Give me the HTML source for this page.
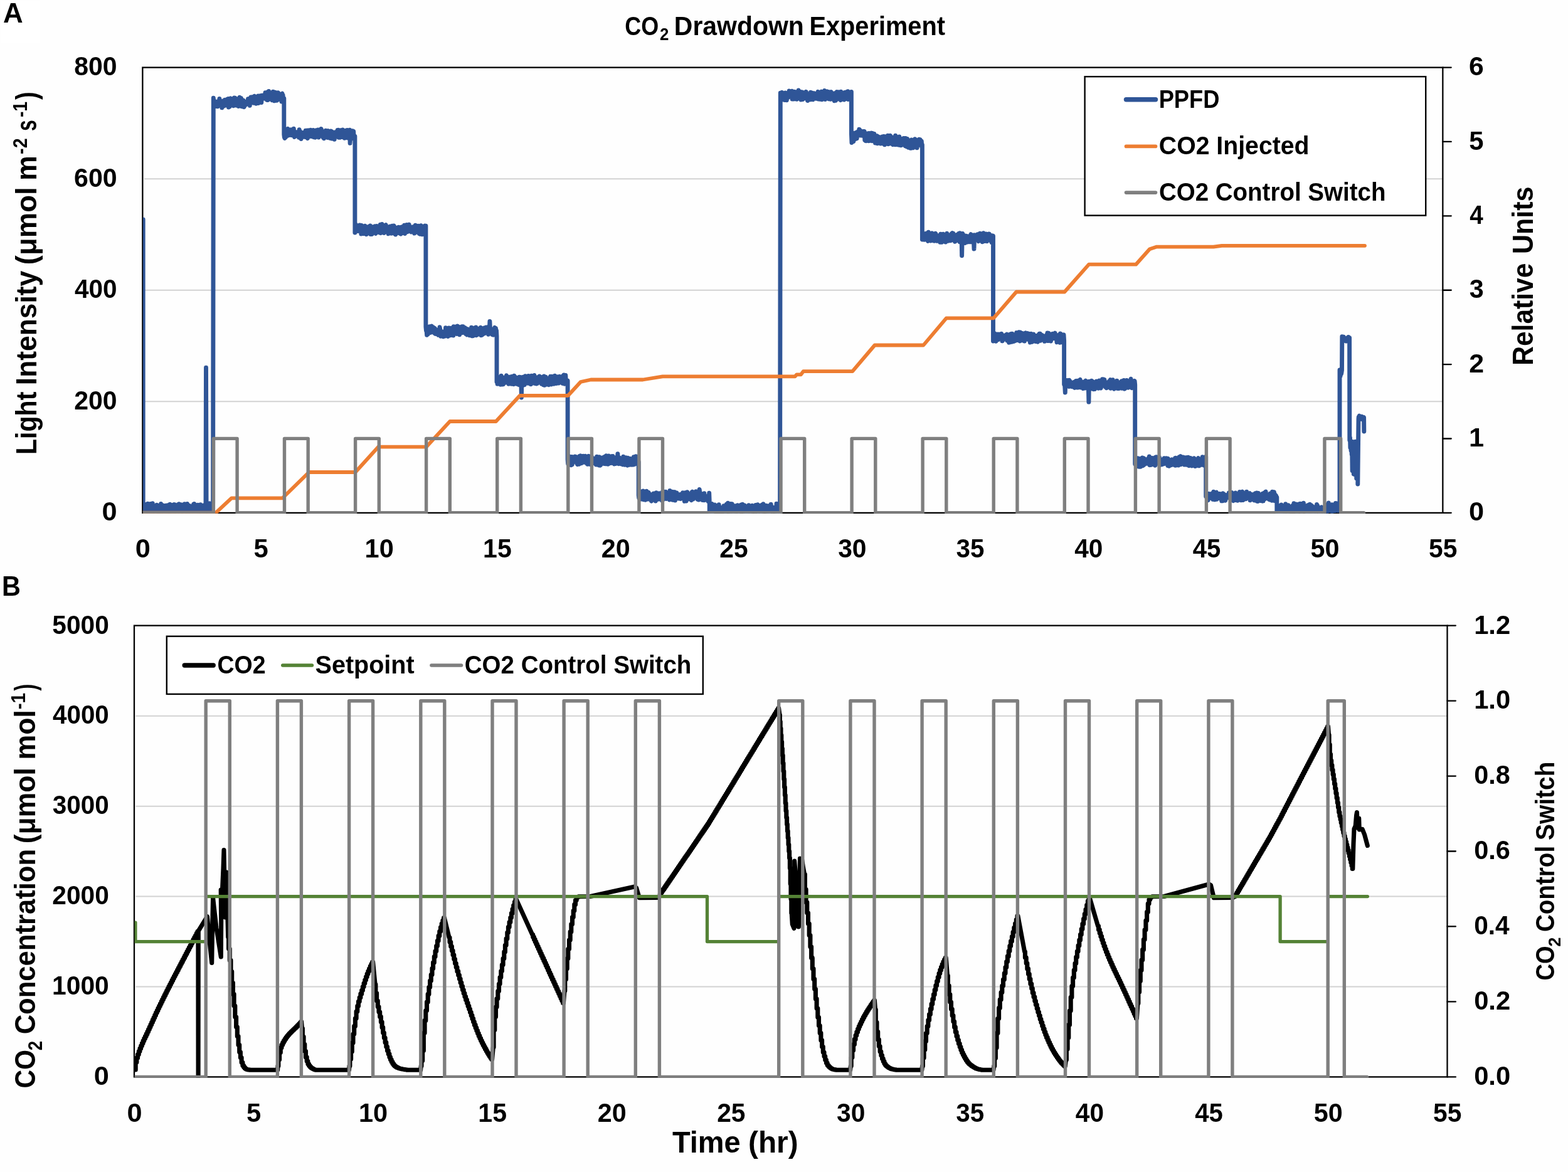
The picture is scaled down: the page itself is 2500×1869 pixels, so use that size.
<!DOCTYPE html>
<html lang="en"><head><meta charset="utf-8"><title>CO2 Drawdown Experiment</title><style>html,body{margin:0;padding:0;background:#fefefe}body{width:2500px;height:1869px}svg{display:block}text{white-space:pre}</style></head>
<body>
<svg width="2500" height="1869" viewBox="0 0 2500 1869" role="img" aria-label="CO2 Drawdown Experiment" font-family="'Liberation Sans', Arial, sans-serif" font-weight="bold" fill="#000">
<rect width="2500" height="1869" fill="#fefefe"/>
<rect x="1" y="1" width="62" height="68" fill="#fff"/>
<clipPath id="ca"><rect x="227.9" y="107.6" width="2073.0" height="711.2"/></clipPath>
<clipPath id="cb"><rect x="214.6" y="997.6" width="2093.5" height="720.7"/></clipPath>
<g id="panelA">
<line x1="229.9" y1="640.2" x2="2300.3" y2="640.2" stroke="#d2d2d2" stroke-width="2"/>
<line x1="229.9" y1="462.7" x2="2300.3" y2="462.7" stroke="#d2d2d2" stroke-width="2"/>
<line x1="229.9" y1="285.2" x2="2300.3" y2="285.2" stroke="#d2d2d2" stroke-width="2"/>
<rect x="227.35" y="107.60" width="2073.00" height="710.25" fill="none" stroke="#000" stroke-width="2.3"/>
<path d="M2300.35,107.60h13.4M2300.35,225.97h13.4M2300.35,344.35h13.4M2300.35,462.73h13.4M2300.35,581.10h13.4M2300.35,699.48h13.4M2300.35,817.85h13.4" fill="none" stroke="#000" stroke-width="2.3" stroke-linecap="round"/>
<g clip-path="url(#ca)">
<path d="M228.2,350 228.2,811.5 228.4,815.2 228.9,807.1 229.5,813.2 230,811.6 230.6,815.6 231.1,806.9 231.7,815.2 232.3,804.8 232.8,815.6 233.4,814.5 233.9,814.1 234.5,814.4 235,814.1 235.6,803.1 236.1,814.8 236.7,813.2 237.2,815.6 237.8,805.8 238.3,814.6 238.9,804.3 239.4,815.3 240,803.4 240.6,814.6 241.1,807.3 241.7,814.8 242.2,811.8 242.8,815.1 243.3,802.8 243.9,813.6 244.4,808.9 245,814 245.5,809 246.1,814.5 246.6,810.7 247.2,814.7 247.7,813.4 248.3,815.4 248.8,813.6 249.4,814.2 250,805.1 250.5,814.4 251.1,810.4 251.6,813.4 252.2,813.7 252.7,813.3 253.3,806.5 253.8,813.7 254.4,806.9 254.9,813.5 255.5,810.6 256,814.5 256.6,803.5 257.1,814.8 257.7,805.1 258.3,814.5 258.8,808.7 259.4,814.4 259.9,806 260.5,813.7 261,809.5 261.6,815.3 262.1,807.2 262.7,814.2 263.2,806.8 263.8,813.4 264.3,806.3 264.9,815.1 265.4,806.7 266,815 266.5,805.9 267.1,813.6 267.7,805.8 268.2,814.1 268.8,811.4 269.3,813.3 269.9,813.2 270.4,814.1 271,804.3 271.5,813.3 272.1,810 272.6,813.6 273.2,805.2 273.7,814 274.3,811.6 274.8,815.2 275.4,813.9 276,815.2 276.5,810.4 277.1,813.5 277.6,804.5 278.2,814.9 278.7,804.7 279.3,814 279.8,814.4 280.4,814.6 280.9,806.6 281.5,814.6 282,814 282.6,815.7 283.1,806.7 283.7,813.6 284.3,804.4 284.8,814.9 285.4,803.8 285.9,814.9 286.5,805.9 287,815.5 287.6,805.5 288.1,814.1 288.7,804.8 289.2,813.8 289.8,807.4 290.3,814.4 290.9,813.6 291.4,814.5 292,813.3 292.5,813.8 293.1,811.2 293.7,815.5 294.2,803.8 294.8,814.3 295.3,806.7 295.9,813.8 296.4,808.7 297,814.8 297.5,807.6 298.1,813.5 298.6,803.5 299.2,814.6 299.7,808.8 300.3,815.4 300.8,815.2 301.4,813.3 302,806.4 302.5,814.6 303.1,807.6 303.6,813.8 304.2,812 304.7,815.5 305.3,814.6 305.8,813.7 306.4,807.2 306.9,815.3 307.5,811.3 308,815.4 308.6,804.2 309.1,815 309.7,803.5 310.3,814.6 310.8,816.4 311.4,814.5 311.9,814.8 312.5,814.6 313,805.6 313.6,815.6 314.1,808.8 314.7,814.2 315.2,805.3 315.8,813.8 316.3,815.3 316.9,813.3 317.4,812 318,814.3 318.5,812.2 319.1,813.4 319.7,804.8 320.2,813.3 320.8,813.7 321.3,815.2 321.9,814.3 322.4,815.5 323,808.5 323.5,815.3 324.1,809.8 324.6,813.8 325.2,805.7 325.7,815 326.3,813 326.8,815.4 327.4,808.3 328,813.3 328.5,586.1 329.1,814 329.6,812.6 330.2,813.3 330.7,805.6 331.3,814.9 331.8,808.2 332.4,815.2 332.9,806 333.5,815.4 334,802.8 334.6,813.3 335.1,812.8 335.7,815.3 336.2,807.1 336.8,813.7 337.4,807 337.9,815.2 338.5,807 339,813.5 339.6,802.4 340.3,156.3 340.9,161.2 341.4,161.6 342,170.2 342.6,169.1 343.1,161.6 343.7,162.3 344.3,166.7 344.8,165.7 345.4,169.5 346,166.5 346.5,164.1 347.1,169.9 347.6,161.6 348.2,162.2 348.8,162 349.3,164.2 349.9,157.5 350.5,163.8 351,161.8 351.6,160.8 352.1,160.9 352.7,169.1 353.3,163 353.8,171.9 354.4,163.5 355,167.7 355.5,161.9 356.1,169.6 356.6,160.6 357.2,161.5 357.8,161.7 358.3,159.3 358.9,168.4 359.5,163.7 360,159.1 360.6,165.1 361.1,164.3 361.7,164.5 362.3,167.5 362.8,157.9 363.4,164.1 364,157.5 364.5,171.1 365.1,166.3 365.6,158.9 366.2,170 366.8,158.8 367.3,161.4 367.9,156.8 368.5,161.5 369,166.7 369.6,157.6 370.1,167.2 370.7,161.9 371.3,167.4 371.8,158 372.4,168.7 373,166.1 373.5,156 374.1,162.3 374.7,156.1 375.2,165.8 375.8,160.4 376.3,166.5 376.9,168.1 377.5,157.6 378,167 378.6,160.7 379.2,160.7 379.7,164.7 380.3,169.5 380.8,165.2 381.4,158.4 382,155.2 382.5,156.9 383.1,159.7 383.7,156.4 384.2,156.4 384.8,169.5 385.3,157.9 385.9,160.6 386.5,170.1 387,163.8 387.6,166.2 388.2,160.3 388.7,166 388.7,162.5 389.3,170.7 389.8,167.9 390.4,163.8 391,163.6 391.5,167.7 392.1,162.4 392.7,162.7 393.2,164.6 393.8,164.3 394.3,162.6 394.9,164.6 395.5,157.6 396,166.2 396.6,157.4 397.1,166.8 397.7,163.1 398.3,168.3 398.8,160.4 399.4,163.8 400,154.9 400.5,158.1 401.1,155.8 401.6,163.1 402.2,154.8 402.8,160.2 403.3,156.4 403.9,155 404.4,164.4 405,155.8 405.6,153.2 406.1,157.7 406.7,154.9 407.3,162.2 407.8,160.6 408.4,165.4 408.9,163.9 409.5,155.7 410.1,163.8 410.6,154.7 411.2,163.5 411.7,153 412.3,164.5 412.9,159 413.4,157.4 414,156.6 414.6,156.1 415.1,152.8 415.7,159.8 416.2,155.7 416.8,163.5 417.4,152.3 417.4,155.2 417.9,157.2 418.5,156 419.1,152.5 419.6,156.9 420.2,156.5 420.7,151.6 421.3,152.2 421.9,151 422.4,157.2 423,147.7 423.6,157.6 424.1,154.2 424.7,150.9 425.2,159.3 425.8,159.5 426.4,159.6 426.9,146.8 427.5,152.5 428.1,158.9 428.6,145.4 429.2,149.7 429.7,152.1 430.3,149.4 430.9,153.8 431.4,153.3 432,157.9 432.6,149 433.1,156.7 433.7,152.9 434.2,159.9 434.8,158.4 435.4,146.1 435.9,151.8 436.5,149.7 437,153.2 437.6,160.9 438.2,154.8 438.7,147.3 439.3,157.5 439.9,149.5 440.4,153.4 441,156.1 441.5,160.3 442.1,151.9 442.7,156.8 443.2,147.6 443.8,148 444.4,153.5 444.9,156 445.5,151.5 446,158.4 446.6,152.2 447.2,151.5 447.7,157.8 448.3,158.1 448.9,162.1 449.4,149.6 450,149.1 450.5,160 451.1,151.7 451.7,161 452.2,156.1 452.8,156.5 452.8,214.3 453.3,218.7 453.9,220.4 454.5,211.3 455,208 455.6,218.8 456.1,211.5 456.7,212 457.2,212.2 457.8,213.3 458.3,206 458.9,205.3 459.4,216.3 460,214.3 460.6,210.7 461.1,214.5 461.7,215.4 462.2,209.1 462.8,210.6 463.3,208.5 463.9,206.8 464.4,213.6 465,215.7 465.5,213.8 466.1,208.7 466.7,214.4 467.2,211.1 467.8,211.6 468.3,205.3 468.9,216.7 469.4,218.5 470,209.6 470.5,210.7 471.1,212.7 471.6,211.4 472.2,211.1 472.7,216.8 473.3,215.5 473.9,210.7 474.4,215.4 475,216.2 475.5,212.7 476.1,210.2 476.6,219.2 477.2,206.6 477.7,217.3 478.3,218.7 478.8,209.9 479.4,215.3 480,221.5 480.5,211.5 481.1,216.2 481.6,213.3 482.2,213.7 482.7,218.4 483.3,215.3 483.8,211.4 484.4,218.3 484.9,215.6 485.5,211.9 486.1,216.2 486.6,218.4 487.2,208.3 487.7,209.8 488.3,212.5 488.8,211 489.4,215.6 489.9,207.9 490.5,220.7 491,218 491.6,213.2 492.1,209.2 492.7,207.8 493.3,217.7 493.8,215.1 494.4,212.8 494.9,211.2 495.5,207.3 496,217.6 496.6,209.4 497.1,210.1 497.7,209.5 498.2,214.4 498.8,210.2 499.4,207.4 499.9,218.7 500.5,208.2 501,208.8 501.6,216.5 502.1,212.3 502.7,219.2 503.2,218.6 503.8,213.6 504.3,207.7 504.9,209.8 505.5,215 506,209.6 506.6,212.7 507.1,207 507.7,213.4 508.2,219.1 508.8,214.4 509.3,209.4 509.9,206.9 510.4,214.1 511,213.5 511.5,216.5 512.1,205.4 512.7,207.7 513.2,214.6 513.8,214.1 514.3,216.1 514.9,219 515.4,217.2 516,215 516.5,220.8 517.1,211.1 517.6,209.8 518.2,210.3 518.8,215.7 519.3,208.3 519.9,212.7 520.4,211.8 521,208.6 521.5,219.2 522.1,219.4 522.6,210.8 523.2,208.5 523.7,216.5 524.3,210.4 524.9,216 525.4,213.2 526,220.3 526.5,212.2 527.1,215.3 527.6,208.9 528.2,213.1 528.7,221.1 529.3,209.9 529.8,218.9 530.4,214.4 530.9,216.1 531.5,220.9 532.1,221 532.6,214.1 533.2,222.3 533.7,211.8 534.3,210.8 534.8,216.6 535.4,216.1 535.9,215 536.5,211.8 537,213.6 537.6,215.2 538.2,207.4 538.7,207.9 539.3,207.4 539.8,219.2 540.4,215.8 540.9,211.2 541.5,215 542,219.4 542.6,207.8 543.1,209.1 543.7,211 544.3,212.8 544.8,211.3 545.4,218.5 545.9,213.9 546.5,206.9 547,209.6 547.6,213.2 548.1,216.8 548.7,214.9 549.2,220.3 549.8,210.3 550.3,214.7 550.9,219.7 551.5,212.1 552,207.9 552.6,208.9 553.1,211.5 553.7,207.4 554.2,212.6 554.8,220 555.3,218.7 555.9,214.6 556.4,219.7 557,215.2 557.6,207.1 558.1,228.4 558.7,214.8 559.2,215.7 559.8,210.1 560.3,217.2 560.9,214.4 561.4,220.9 562,208.6 562.5,214.5 563.1,219.5 563.7,209.4 564.2,218.5 564.8,221 565.3,218.2 565.9,217 565.9,371.1 566.4,358.6 567,362.8 567.5,358.2 568.1,364.3 568.6,368.4 569.2,364.9 569.7,361 570.3,367 570.9,368.6 571.4,361.5 572,362.7 572.5,360.9 573.1,364.7 573.6,358.9 574.2,364.3 574.7,359.5 575.3,362.2 575.8,373.1 576.4,359.5 577,363 577.5,364.3 578.1,371.1 578.6,360.6 579.2,372.7 579.7,369.7 580.3,372.4 580.8,371.4 581.4,368 581.9,360.2 582.5,372.8 583.1,368.1 583.6,362.1 584.2,373.7 584.7,362.1 585.3,362.6 585.8,368.7 586.4,370.7 586.9,361.7 587.5,365.6 588,366.4 588.6,366.5 589.1,366.8 589.7,366.4 590.3,359.9 590.8,373.5 591.4,368.1 591.9,370 592.5,369.3 593,373.6 593.6,367.6 594.1,364.5 594.7,370.4 595.2,361.8 595.8,367.8 596.4,369.9 596.9,367.3 597.5,371.2 598,360.8 598.6,370.6 599.1,372.4 599.7,371 600.2,363.9 600.8,360.5 601.3,366.9 601.9,361.9 602.5,368.3 603,362.5 603.6,368.4 604.1,363.5 604.7,364.7 605.2,371.1 605.8,363.4 606.3,358.3 606.9,371.7 607.4,359.9 608,361.7 608.5,368.7 609.1,357.4 609.7,368.6 610.2,364.6 610.8,367.3 611.3,362.4 611.9,361.9 612.4,371.6 613,370.7 613.5,367 614.1,362.8 614.6,359.1 615.2,358.7 615.8,361.8 616.3,368.7 616.9,361.8 617.4,361.8 618,365.9 618.5,369.6 619.1,372.8 619.6,372.6 620.2,366.9 620.7,368.1 621.3,363.6 621.9,361 622.4,368.2 623,361.2 623.5,372.2 624.1,361.3 624.6,369.1 625.2,360.1 625.7,369.5 626.3,362.3 626.8,369.2 627.4,372 627.9,360 628.5,364.8 629.1,361.6 629.6,363.7 630.2,364.9 630.7,374.1 631.3,365.2 631.8,370 632.4,363.8 632.9,363.4 633.5,365.5 634,368.8 634.6,368.4 635.2,365.5 635.7,362.3 636.3,371.8 636.8,367.7 637.4,368.2 637.9,370.1 638.5,362.4 639,373.2 639.6,370.8 640.1,370.8 640.7,370 641.2,361.8 641.8,368.4 642.4,362.2 642.9,366.4 643.5,371.6 644,366.2 644.6,359.2 645.1,369.2 645.7,372.5 646.2,369.5 646.8,367.7 647.3,358.9 647.9,362 648.5,358.4 649,363.7 649.6,367 650.1,369.7 650.7,363.1 651.2,362.9 651.8,360.3 652.3,358.1 652.9,367.6 653.4,363.8 654,365.9 654.6,367.7 655.1,363.3 655.7,370 656.2,364.6 656.8,365.5 657.3,369.6 657.9,362 658.4,368.5 659,361.7 659.5,369 660.1,366.9 660.6,372.1 661.2,365 661.8,368.8 662.3,359.1 662.9,368.9 663.4,366.4 664,361.9 664.5,370.4 665.1,361.6 665.6,366.2 666.2,368.4 666.7,360.2 667.3,367.4 667.9,360.8 668.4,372.7 669,362.6 669.5,367.8 670.1,373.3 670.6,366.1 671.2,359.7 671.7,365.2 672.3,368.4 672.8,367.7 673.4,373.9 674,361.1 674.5,361.4 675.1,365.4 675.6,366.2 676.2,371.8 676.7,362.3 677.3,360.1 677.8,370.1 678.4,366.3 678.9,360.2 678.9,521.1 679.5,527.4 680,525.6 680.6,534.3 681.2,526.4 681.7,523.2 682.3,532.8 682.8,527.7 683.4,522.3 683.9,521.9 684.5,528.7 685,520.7 685.6,524.9 686.1,529.9 686.7,530.4 687.3,529.5 687.8,521.9 688.4,520.1 688.9,529.4 689.5,525.5 690,528.1 690.6,521.8 691.1,522.1 691.7,522.5 692.2,530.7 692.8,523.2 693.4,523.4 693.9,532.4 694.5,525.9 695,532.5 695.6,528 696.1,529.2 696.7,526.1 697.2,527.8 697.8,526.9 698.3,529.1 698.9,534.4 699.4,530.4 700,529.9 700.6,530.8 701.1,521.8 701.7,525 702.2,527.8 702.8,536.2 703.3,532.8 703.9,535.4 704.4,530.2 705,534.9 705.5,528.9 706.1,535.5 706.7,536.8 707.2,532 707.8,529.3 708.3,532.7 708.9,536.3 709.4,529 710,532.4 710.5,522.8 711.1,530.7 711.6,526.6 712.2,533.4 712.8,526.3 713.3,530.8 713.9,529.2 714.4,536.6 715,534.6 715.5,523 716.1,535.1 716.6,532.8 717.2,523.1 717.7,532.4 718.3,534.8 718.8,525.6 719.4,529.3 720,523.2 720.5,526.3 721.1,528.1 721.6,527.1 722.2,523.4 722.7,535 723.3,520.7 723.8,522.9 724.4,524.7 724.9,523.8 725.5,521 726.1,526 726.6,523.5 727.2,524.9 727.7,521.5 728.3,532.6 728.8,531.5 729.4,520 729.9,520.3 730.5,529.6 731,523.8 731.6,525 732.2,527 732.7,533.8 733.3,521.6 733.8,525.2 734.4,531.2 734.9,528.7 735.5,525.4 736,527.7 736.6,520.7 737.1,525.4 737.7,530.6 738.2,520.6 738.8,527.7 739.4,523.1 739.9,523.5 740.5,525.2 741,524 741.6,522.6 742.1,525.2 742.7,532.4 743.2,529.9 743.8,532.8 744.3,533.8 744.9,532.1 745.5,524.6 746,527.3 746.6,526.1 747.1,532.9 747.7,531 748.2,531.3 748.8,534.8 749.3,525.6 749.9,526.1 750.4,531.8 751,534.7 751.6,522.3 752.1,535.7 752.7,526.1 753.2,527 753.8,531.7 754.3,535.7 754.9,523.1 755.4,529 756,534.1 756.5,529.3 757.1,530.9 757.6,532.5 758.2,531.1 758.8,522 759.3,534.8 759.9,525.2 760.4,527.9 761,533.9 761.5,526.5 762.1,527.7 762.6,530.1 763.2,526.3 763.7,525.1 764.3,528.6 764.9,523.4 765.4,526.6 766,523.8 766.5,522.3 767.1,534.8 767.6,532.5 768.2,534.5 768.7,526.4 769.3,524 769.8,533.4 770.4,523.8 771,526.3 771.5,529.1 772.1,523 772.6,527 773.2,531.5 773.7,528.7 774.3,524.7 774.8,521.9 775.4,526.4 775.9,526.7 776.5,523.9 777,525.6 777.6,525.5 778.2,521.5 778.7,533.4 779.3,531.8 779.8,529 780.4,523.9 780.9,512.4 781.5,525.7 782,523.5 782.6,524.6 783.1,529.1 783.7,525.1 784.3,530.2 784.8,533.5 785.4,531.8 785.9,534.1 786.5,534.2 787,532.3 787.6,528.5 788.1,524.6 788.7,522.3 789.2,527.2 789.8,523.4 790.4,523.4 790.9,526.2 791.5,526.9 792,536.4 792,609.1 792.6,600.3 793.1,612.3 793.7,601.3 794.2,605.4 794.8,606.8 795.3,611.2 795.9,606.5 796.4,603.4 797,611 797.6,602.1 798.1,613.3 798.7,608.5 799.2,599.2 799.8,612.9 800.3,611.4 800.9,601.5 801.4,613 802,604.6 802.5,612.8 803.1,605.9 803.7,604.2 804.2,603.6 804.8,609.1 805.3,609.4 805.9,610.1 806.4,609.3 807,600.1 807.5,598.7 808.1,602.3 808.6,602.8 809.2,603.6 809.8,606.3 810.3,602 810.9,612.4 811.4,603.6 812,601.2 812.5,604 813.1,604.7 813.6,606.3 814.2,601 814.7,604.9 815.3,612.3 815.8,600.4 816.4,610.4 817,602.2 817.5,603.6 818.1,612 818.6,605.7 819.2,612.7 819.7,599.3 820.3,607.4 820.8,600.4 821.4,606.8 821.9,610.7 822.5,601.7 823.1,602.9 823.6,612.2 824.2,610.9 824.7,608.3 825.3,608.7 825.8,602.9 826.4,607.7 826.9,613.4 827.5,606.6 828,601.2 828.6,614.1 829.2,611.8 829.7,601.4 830.3,606.5 830.8,602.5 831.4,634 831.9,609.9 832.5,614 833,607.2 833.6,614.8 834.1,601.3 834.7,603.5 835.2,612 835.8,608.7 836.4,613.5 836.9,605.4 837.5,599.8 838,606.6 838.6,601.6 839.1,601.8 839.7,602.6 840.2,602.3 840.8,605.5 841.3,607.5 841.9,611.3 842.5,599.4 843,599.8 843.6,603.8 844.1,604.9 844.7,600 845.2,609.9 845.8,602.2 846.3,612.9 846.9,607.9 847.4,599.2 848,611.6 848.5,604.8 849.1,609.9 849.7,608.7 850.2,602.2 850.8,605.2 851.3,598.6 851.9,598.5 852.4,602.9 853,611.5 853.5,608.8 854.1,609.2 854.6,604.2 855.2,612.1 855.8,606.4 856.3,607 856.9,611.3 857.4,601.6 858,601.5 858.5,606.4 859.1,606.4 859.6,607.8 860.2,600 860.7,602.8 861.3,602.5 861.9,606 862.4,607.6 863,605.3 863.5,612.2 864.1,605.2 864.6,607.2 865.2,601.1 865.7,606.8 866.3,613.6 866.8,612.8 867.4,599.9 867.9,614.3 868.5,608.1 869.1,612 869.6,603.4 870.2,601 870.7,613.3 871.3,607.4 871.8,604.1 872.4,604.1 872.9,605.9 873.5,603.5 874,603.9 874.6,609.2 875.2,613.9 875.7,609.8 876.3,608.2 876.8,602.6 877.4,600.3 877.9,612.8 878.5,612.8 879,613 879.6,602.6 880.1,600.3 880.7,606.9 881.3,606.5 881.8,607.3 882.4,610.2 882.9,612.3 883.5,606.7 884,610.8 884.6,599.3 885.1,602.3 885.7,602.7 886.2,604.7 886.8,611.6 887.3,601.4 887.9,611 888.5,600.9 889,600.8 889.6,603.8 890.1,605.4 890.7,611 891.2,606.9 891.8,602.4 892.3,600.3 892.9,606.5 893.4,609.4 894,604.5 894.6,601.3 895.1,602.4 895.7,604.6 896.2,610.8 896.8,611.3 897.3,599.4 897.9,599 898.4,602.1 899,598 899.5,605.7 900.1,612.2 900.7,609.4 901.2,602.7 901.8,598.5 902.3,607.8 902.9,609.2 903.4,611.2 904,611.2 904.5,609.4 905.1,606.8 905.1,732.6 905.6,739.5 906.2,736.8 906.7,741.5 907.3,739.3 907.9,731.5 908.4,729.8 909,728.2 909.5,729.2 910.1,733.4 910.6,741.8 911.2,732.9 911.7,728.5 912.3,740.6 912.8,734.7 913.4,735.8 914,737.4 914.5,729.3 915.1,735.5 915.6,732 916.2,731.3 916.7,728 917.3,734.7 917.8,728.1 918.4,728.6 918.9,736.1 919.5,736.5 920.1,739.8 920.6,740.5 921.2,734.2 921.7,739 922.3,729.4 922.8,734.6 923.4,740.2 923.9,727.4 924.5,738 925,728.6 925.6,726.8 926.1,734 926.7,738.9 927.3,730.9 927.8,729.3 928.4,730.5 928.9,729.2 929.5,733.4 930,727.3 930.6,728.3 931.1,737.2 931.7,728.9 932.2,735.6 932.8,732.3 933.4,727.3 933.9,731.1 934.5,729 935,737.2 935.6,739.1 936.1,736 936.7,733.3 937.2,740.4 937.8,728.9 938.3,727.3 938.9,729.3 939.5,733.5 940,737.3 940.6,727.9 941.1,740.5 941.7,734 942.2,738.6 942.8,737.1 943.3,728.2 943.9,739.2 944.4,732.1 945,735.3 945.5,736.5 946.1,732.5 946.7,731.2 947.2,733.6 947.8,738.4 948.3,737.3 948.9,735 949.4,739.9 950,730.7 950.5,741.1 951.1,733.8 951.6,728.3 952.2,735.9 952.8,735 953.3,732.1 953.9,736 954.4,738.4 955,741.9 955.5,728.6 956.1,736.6 956.6,742.3 957.2,733.1 957.7,741.4 958.3,732.9 958.9,738.7 959.4,733.8 960,737.1 960.5,737.5 961.1,729.7 961.6,730.2 962.2,735 962.7,729.6 963.3,739.5 963.8,736.6 964.4,728.2 964.9,739.7 965.5,738.7 966.1,739.5 966.6,726.7 967.2,728 967.7,728.7 968.3,727.7 968.8,735.9 969.4,740.4 969.9,736.9 970.5,727 971,739.3 971.6,731 972.2,732.7 972.7,736.4 973.3,734.5 973.8,738.6 974.4,728.6 974.9,729.1 975.5,727.7 976,729.4 976.6,733.3 977.1,727.4 977.7,738.7 978.3,737.7 978.8,737.1 979.4,740 979.9,734.1 980.5,736.1 981,730.1 981.6,739.6 982.1,738.6 982.7,735.7 983.2,729.1 983.8,734.9 984.3,731.8 984.9,723.6 985.5,733.7 986,735.9 986.6,739.7 987.1,732.5 987.7,729.9 988.2,731.6 988.8,735.6 989.3,736.5 989.9,732.3 990.4,739.9 991,733.8 991.6,735.8 992.1,739.5 992.7,740.8 993.2,734.8 993.8,728.3 994.3,739.1 994.9,730.3 995.4,736.6 996,741.3 996.5,737.1 997.1,740.8 997.7,734.4 998.2,729.7 998.8,734.4 999.3,740.4 999.9,731.8 1000.4,742.2 1001,730.2 1001.5,738.3 1002.1,739.7 1002.6,731.4 1003.2,738.8 1003.7,741.3 1004.3,732.5 1004.9,731.4 1005.4,732.1 1006,734.9 1006.5,740.4 1007.1,732.2 1007.6,741.3 1008.2,738.5 1008.7,735.4 1009.3,737 1009.8,741 1010.4,728.6 1011,733.8 1011.5,731.3 1012.1,740.2 1012.6,733.9 1013.2,731.3 1013.7,727.7 1014.3,739.1 1014.8,727.9 1015.4,733.7 1015.9,738.1 1016.5,735.7 1017.1,738.1 1017.6,734.4 1018.2,736.7 1018.2,789.7 1018.7,794.4 1019.3,787.4 1019.8,785.3 1020.4,784.3 1020.9,783.9 1021.5,792.9 1022,786.5 1022.6,796 1023.1,784.7 1023.7,790 1024.3,794.3 1024.8,793 1025.4,782.9 1025.9,793.8 1026.5,796.7 1027,786.1 1027.6,795 1028.1,791.2 1028.7,786.2 1029.2,797.4 1029.8,796.5 1030.4,794.8 1030.9,783.1 1031.5,793.1 1032,789.9 1032.6,787.3 1033.1,796.1 1033.7,786.1 1034.2,785.5 1034.8,792.7 1035.3,793.2 1035.9,795.5 1036.5,788.3 1037,793.9 1037.6,795.1 1038.1,798.6 1038.7,799.1 1039.2,795.6 1039.8,788.8 1040.3,791.1 1040.9,788.5 1041.4,790.3 1042,787.1 1042.5,795.2 1043.1,787.1 1043.7,796.4 1044.2,791 1044.8,791.5 1045.3,799.1 1045.9,795.3 1046.4,785.6 1047,797.1 1047.5,793.6 1048.1,796.6 1048.6,792.4 1049.2,792.9 1049.8,796.1 1050.3,793.5 1050.9,786.6 1051.4,796.1 1052,789.2 1052.5,787.3 1053.1,792.6 1053.6,788.6 1054.2,796 1054.7,795.5 1055.3,798.1 1055.8,785.1 1056.4,794.3 1057,788.4 1057.5,796.6 1058.1,783.9 1058.6,788.7 1059.2,789.2 1059.7,793.6 1060.3,785.5 1060.8,794.1 1061.4,784.2 1061.9,790.8 1062.5,795.6 1063.1,791.5 1063.6,792.3 1064.2,793.5 1064.7,787.1 1065.3,788.7 1065.8,791.1 1066.4,787.9 1066.9,787.1 1067.5,797 1068,782.5 1068.6,786.6 1069.2,784.8 1069.7,788.7 1070.3,795.6 1070.8,792 1071.4,796.5 1071.9,784.1 1072.5,797.4 1073,795.2 1073.6,796 1074.1,789.7 1074.7,784.6 1075.2,793.9 1075.8,784.7 1076.4,798 1076.9,785.6 1077.5,790.6 1078,790.4 1078.6,785.8 1079.1,786 1079.7,790.4 1080.2,788.9 1080.8,792.1 1081.3,792.7 1081.9,795.1 1082.5,793.5 1083,791.3 1083.6,792.8 1084.1,794.6 1084.7,788.4 1085.2,795.5 1085.8,794.7 1086.3,794.4 1086.9,788.8 1087.4,789.4 1088,794.7 1088.6,785.7 1089.1,789.8 1089.7,790.5 1090.2,786.7 1090.8,794.2 1091.3,799.4 1091.9,798.5 1092.4,785.8 1093,792.6 1093.5,789.7 1094.1,799.1 1094.6,794.1 1095.2,796.4 1095.8,784.8 1096.3,792.7 1096.9,787.7 1097.4,789.9 1098,791.2 1098.5,793.8 1099.1,789.7 1099.6,796 1100.2,789 1100.7,787.3 1101.3,790.7 1101.9,796.5 1102.4,797.7 1103,785 1103.5,785.6 1104.1,784.2 1104.6,785.2 1105.2,796.1 1105.7,793.4 1106.3,794.4 1106.8,794 1107.4,787.5 1108,788.5 1108.5,787.7 1109.1,790.3 1109.6,783.7 1110.2,790.2 1110.7,789 1111.3,791 1111.8,796.1 1112.4,796.4 1112.9,788.6 1113.5,783.9 1114,797 1114.6,785 1115.2,780.4 1115.7,784.5 1116.3,789.4 1116.8,787.1 1117.4,786.8 1117.9,790.6 1118.5,790.8 1119,794.7 1119.6,791.1 1120.1,797.6 1120.7,793.4 1121.3,791.6 1121.8,796 1122.4,797.7 1122.9,786.7 1123.5,797.6 1124,797.2 1124.6,792.9 1125.1,792.1 1125.7,791.1 1126.2,795.1 1126.8,793.2 1127.4,792.9 1127.9,797.8 1128.5,797.8 1129,799.4 1129.6,790.9 1130.1,795.3 1130.7,786.1 1131.2,799.5 1131.2,815.3 1131.8,811.2 1132.3,815.3 1132.9,809.7 1133.4,815.2 1134,812.2 1134.6,815.1 1135.1,803.4 1135.7,815.7 1136.2,814.2 1136.8,815.6 1137.3,811.7 1137.9,814 1138.4,811.7 1139,813.9 1139.5,805 1140.1,813.9 1140.6,811.5 1141.2,814.5 1141.7,812.6 1142.3,814.5 1142.9,806.6 1143.4,813.6 1144,814.4 1144.5,814.1 1145.1,809.2 1145.6,813.8 1146.2,804.8 1146.7,813.5 1147.3,812.6 1147.8,814.3 1148.4,808.9 1148.9,813.3 1149.5,813.8 1150,814.3 1150.6,810.6 1151.2,813.6 1151.7,809.4 1152.3,814.1 1152.8,812.6 1153.4,813.3 1153.9,806.7 1154.5,814.2 1155,814.8 1155.6,815.2 1156.1,807 1156.7,814.2 1157.2,813.8 1157.8,815.1 1158.3,804.2 1158.9,813.6 1159.4,807.6 1160,813.2 1160.6,802.1 1161.1,813.6 1161.7,813.8 1162.2,814.5 1162.8,806.7 1163.3,814.6 1163.9,806.2 1164.4,813.5 1165,803.5 1165.5,815.4 1166.1,812.1 1166.6,814 1167.2,803.7 1167.7,815.2 1168.3,813.7 1168.9,815.4 1169.4,812.1 1170,813.5 1170.5,808.7 1171.1,815.4 1171.6,806.8 1172.2,814.9 1172.7,807.9 1173.3,814.5 1173.8,809.1 1174.4,815.1 1174.9,812.4 1175.5,813.6 1176,805.6 1176.6,813.2 1177.2,814.9 1177.7,815.6 1178.3,809.9 1178.8,813.5 1179.4,814.4 1179.9,814.6 1180.5,813.2 1181,814.1 1181.6,805 1182.1,814.5 1182.7,814.7 1183.2,814.6 1183.8,804.2 1184.3,814.6 1184.9,813.6 1185.5,813.8 1186,809.8 1186.6,815.2 1187.1,805.9 1187.7,813.3 1188.2,806.9 1188.8,813.7 1189.3,811.1 1189.9,815.3 1190.4,816.3 1191,815.7 1191.5,809.8 1192.1,814.9 1192.6,811.4 1193.2,815.1 1193.8,805.6 1194.3,815.4 1194.9,807.1 1195.4,813.8 1196,806.9 1196.5,815.5 1197.1,813.4 1197.6,814.9 1198.2,809 1198.7,815 1199.3,806.1 1199.8,813.8 1200.4,810.1 1200.9,813.4 1201.5,808.2 1202.1,814.4 1202.6,814.6 1203.2,814.7 1203.7,811.5 1204.3,814.9 1204.8,805.5 1205.4,814.4 1205.9,805.8 1206.5,814.9 1207,807.4 1207.6,813.9 1208.1,804.7 1208.7,815.6 1209.2,811.7 1209.8,813.5 1210.4,806.3 1210.9,813.7 1211.5,809.7 1212,815.1 1212.6,812.1 1213.1,815.7 1213.7,809.8 1214.2,813.9 1214.8,805.1 1215.3,815.2 1215.9,812 1216.4,814.6 1217,803.8 1217.5,814.9 1218.1,814 1218.7,814.3 1219.2,809 1219.8,813.4 1220.3,807.4 1220.9,814.8 1221.4,806.2 1222,813.8 1222.5,813 1223.1,814.3 1223.6,808.1 1224.2,815.4 1224.7,806.6 1225.3,813.9 1225.8,812 1226.4,813.7 1227,815.8 1227.5,814.6 1228.1,810.9 1228.6,814.7 1229.2,804.3 1229.7,813.8 1230.3,813 1230.8,814 1231.4,808.6 1231.9,815.1 1232.5,814.4 1233,813.5 1233.6,812.3 1234.1,813.4 1234.7,811.9 1235.3,813.7 1235.8,809.3 1236.4,815 1236.9,811.4 1237.5,813.3 1238,803.3 1238.6,813.9 1239.1,810.5 1239.7,815.6 1240.2,812.5 1240.8,813.6 1241.3,807.6 1241.9,814.4 1242.4,805.6 1243,815.7 1243.6,814 1244.3,148.2 1244.9,149.3 1245.4,155.6 1246,147.6 1246.5,149.2 1247.1,147.4 1247.6,153.6 1248.2,148.6 1248.7,149.4 1249.3,159 1249.8,157.9 1250.4,149.5 1251,159.6 1251.5,150.9 1252.1,147.9 1252.6,155.6 1253.2,154.6 1253.7,153.3 1254.3,159.8 1254.8,150.2 1255.4,154.2 1255.9,148.4 1256.5,155.6 1257.1,155.1 1257.6,150.2 1258.2,144.9 1258.7,149.8 1259.3,147.3 1259.8,153.8 1260.4,148.2 1260.9,146.9 1261.5,150.7 1262,152.4 1262.6,145.1 1263.1,158 1263.7,147.1 1264.3,149.6 1264.8,148.3 1265.4,158 1265.9,156.6 1266.5,146.2 1267,156.8 1267.6,152.4 1268.1,148.5 1268.7,157.9 1269.2,154.7 1269.8,146.7 1270.4,158.3 1270.9,153.2 1271.5,153.5 1272,150.7 1272.6,149.6 1273.1,144 1273.7,155.2 1274.2,152.9 1274.8,154.7 1275.3,149.9 1275.9,155.5 1276.5,146.4 1277,159.1 1277.6,155.9 1278.1,150 1278.7,154.2 1279.2,146.9 1279.8,153.7 1280.3,158.5 1280.9,156.2 1281.4,156.3 1282,156.6 1282.5,147.6 1283.1,149.6 1283.7,156.1 1284.2,147.3 1284.8,150.3 1285.3,146.3 1285.9,148.7 1286.4,156 1287,158.2 1287.5,160.6 1288.1,159.1 1288.6,157.3 1289.2,158.8 1289.8,159.1 1290.3,155.7 1290.9,153.8 1291.4,156.4 1292,157 1292.5,147.3 1293.1,158.7 1293.6,153.4 1294.2,154.3 1294.7,152.5 1295.3,148.1 1295.9,158.9 1296.4,155.5 1297,149.6 1297.5,151.2 1298.1,153 1298.6,148.7 1299.2,154.5 1299.7,152.4 1300.3,157 1300.8,157.2 1301.4,156.1 1301.9,152.4 1302.5,153.3 1303.1,149.4 1303.6,149.7 1304.2,146.3 1304.7,158.1 1305.3,150 1305.8,150.6 1306.4,151.5 1306.9,158.3 1307.5,154.5 1308,156.5 1308.6,146.9 1309.2,147 1309.7,146 1310.3,158.8 1310.8,153.6 1311.4,150.8 1311.9,151.7 1312.5,154.1 1313,156.2 1313.6,153.4 1314.1,155.4 1314.7,144.4 1315.3,146.5 1315.8,158.5 1316.4,156.9 1316.9,150.6 1317.5,150.1 1318,146.5 1318.6,146 1319.1,150.9 1319.7,146.2 1320.2,156.4 1320.8,153.5 1321.3,150.2 1321.9,157.9 1322.5,148 1323,146.9 1323.6,148 1324.1,158.4 1324.7,147.5 1325.2,146.6 1325.8,155.2 1326.3,155.6 1326.9,149.6 1327.4,152.2 1328,152.1 1328.6,158 1329.1,155.8 1329.7,159.8 1330.2,160.7 1330.8,148.7 1331.3,151.8 1331.9,155.5 1332.4,160.2 1333,149.1 1333.5,149.4 1334.1,146.6 1334.7,156.9 1335.2,158.1 1335.8,146.8 1336.3,146.8 1336.9,157.7 1337.4,154.5 1338,150.4 1338.5,155 1339.1,151.6 1339.6,157.5 1340.2,159.6 1340.7,146.3 1341.3,157.2 1341.9,157.5 1342.4,150.1 1343,156.3 1343.5,151.6 1344.1,150.2 1344.6,154.3 1345.2,156.9 1345.7,159.1 1346.3,158.8 1346.8,147.4 1347.4,155.7 1348,153.6 1348.5,156.5 1349.1,157.3 1349.6,146.6 1350.2,155.2 1350.7,148 1351.3,150.6 1351.8,145.7 1352.4,158.6 1352.9,153.3 1353.5,154.2 1354.1,150.8 1354.6,149.4 1355.2,147.8 1355.7,148 1356.3,150.3 1356.8,156.7 1357.4,146.4 1357.4,213.4 1358,227.6 1358.6,224.8 1359.1,224.5 1359.7,224 1360.3,223.1 1360.9,225.6 1361.5,213.9 1362.1,222.4 1362.7,212.1 1363.3,216.4 1363.9,221.7 1364.4,219.2 1365,218 1365.6,211.1 1366.2,220.8 1366.8,212.9 1366.8,217.3 1367.4,210.3 1368,213.5 1368.6,209.4 1369.2,213.7 1369.8,206.2 1370.4,206.4 1371,207.4 1371.6,216 1372.2,208.9 1372.8,209.1 1373.4,216 1374,211.8 1374.6,216.4 1375.2,209.9 1375.8,209.6 1376.4,215.7 1377,212.1 1377.6,211.2 1378.2,209.6 1378.8,223.3 1379.4,218 1380,219.8 1380,224.4 1380.5,220.2 1381.1,224.8 1381.7,217.7 1382.2,216.3 1382.8,212.9 1383.3,216.5 1383.9,219.4 1384.4,215.6 1385,224.7 1385.5,212.4 1386.1,224.5 1386.7,219.4 1387.2,216.4 1387.8,214.6 1388.3,213.1 1388.9,213.2 1389.4,212.2 1390,215.6 1390.5,224.8 1391.1,213.8 1391.6,212.7 1392.2,219.8 1392.8,217.5 1393.3,218.2 1393.9,213.5 1394.4,219.6 1395,219 1395.5,228 1396.1,227.8 1396.6,219.7 1397.2,227.6 1397.8,222.7 1398.3,216.7 1398.9,228.8 1399.4,220.4 1400,221.9 1400.5,225.2 1401.1,218.3 1401.6,222.2 1402.2,218.7 1402.7,218.9 1403.3,220.6 1403.9,229 1404.4,225.2 1405,221.4 1405.5,220.7 1406.1,221.9 1406.6,218 1407.2,228.9 1407.7,221.4 1408.3,223.2 1408.8,217.5 1409.4,229.5 1410,223.6 1410.5,230.8 1411.1,217.6 1411.6,219.9 1412.2,225.1 1412.7,222 1413.3,227.9 1413.8,224.8 1414.4,228.8 1415,227.7 1415.5,216.3 1416.1,229.8 1416.6,218.1 1417.2,221 1417.7,223.8 1418.3,228.9 1418.8,220.3 1419.4,216.2 1419.9,217.4 1420.5,227.5 1421.1,218.7 1421.6,225.7 1422.2,225.9 1422.7,229.9 1423.3,230.6 1423.8,219.3 1424.4,228.3 1424.9,221.7 1425.5,219.1 1426.1,221 1426.6,219 1427.2,230.8 1427.7,216.3 1428.3,228.8 1428.8,226.7 1429.4,224.7 1429.9,219.8 1430.5,221.3 1431,230.8 1431.6,229 1432.2,218.8 1432.7,223.6 1433.3,231.3 1433.8,217.9 1434.4,225.4 1434.9,228.5 1435.5,221.7 1436,224.1 1436.6,231.9 1437.2,227.4 1437.7,231.1 1438.3,229 1438.8,222.2 1439.4,221.2 1439.9,228.2 1440.5,224.1 1441,220.5 1441.6,220.5 1442.1,231.7 1442.7,230.6 1443.3,232.7 1443.8,220.4 1444.4,229.2 1444.9,222.7 1445.5,233.7 1446,229.9 1446.6,221.4 1447.1,233.8 1447.7,224.7 1448.3,235.2 1448.8,226.1 1449.4,232.8 1449.9,228.8 1450.5,228.4 1451,225.9 1451.6,236.2 1452.1,234.6 1452.7,236.3 1453.2,222.9 1453.8,230.6 1454.4,229 1454.9,226 1455.5,230.8 1456,235.8 1456.6,232.6 1457.1,231.2 1457.7,226.9 1458.2,230.2 1458.8,221.6 1459.4,225.3 1459.9,231 1460.5,231.1 1461,223.3 1461.6,226.6 1462.1,235.8 1462.7,224.6 1463.2,223.8 1463.8,228.8 1464.3,226.8 1464.9,229.1 1465.5,222.3 1466,231.4 1466.6,227.3 1467.1,222.7 1467.7,229.1 1468.2,230.1 1468.8,226.1 1469.3,225 1469.9,234.6 1470.4,231 1470.4,382.1 1471,376.4 1471.6,377.4 1472.1,372.5 1472.7,374.7 1473.2,375.6 1473.8,382.3 1474.3,373.4 1474.9,377.7 1475.4,373.6 1476,381 1476.5,372.1 1477.1,377.2 1477.7,373.7 1478.2,380.4 1478.8,383 1479.3,384.4 1479.9,380.2 1480.4,370.1 1481,381 1481.5,380.9 1482.1,382.2 1482.6,381.1 1483.2,372.5 1483.8,384.1 1484.3,374.2 1484.9,382.4 1485.4,372.5 1486,371.8 1486.5,374.9 1487.1,372.3 1487.6,375.6 1488.2,373.4 1488.7,384 1489.3,382.7 1489.8,384.2 1490.4,380.1 1491,375 1491.5,372.2 1492.1,373.1 1492.6,375.8 1493.2,376 1493.7,376.3 1494.3,384.4 1494.8,382.9 1495.4,380.7 1495.9,378.7 1496.5,376 1497.1,381.3 1497.6,376.4 1498.2,384.5 1498.7,386.2 1499.3,380.6 1499.8,373.2 1500.4,382.8 1500.9,377.3 1501.5,386.4 1502,373.8 1502.6,383.1 1503.2,383.8 1503.7,373.2 1504.3,384.9 1504.8,375.9 1505.4,384.1 1505.9,384.7 1506.5,380.6 1507,381.2 1507.6,386 1508.1,374.5 1508.7,379.7 1509.2,377.5 1509.8,372.2 1510.4,373.3 1510.9,376.8 1511.5,384.3 1512,384.2 1512.6,376.2 1513.1,382.1 1513.7,380 1514.2,383.5 1514.8,382.6 1515.3,375.8 1515.9,383.9 1516.5,381.1 1517,372.7 1517.6,372.1 1518.1,371.7 1518.7,382.6 1519.2,378.1 1519.8,372.1 1520.3,380.2 1520.9,380.4 1521.4,383.6 1522,379.8 1522.6,385.4 1523.1,378.8 1523.7,377.4 1524.2,382.7 1524.8,374.6 1525.3,374.4 1525.9,381.5 1526.4,383.3 1527,381 1527.5,374.2 1528.1,379.3 1528.6,372.4 1529.2,383.9 1529.8,385.6 1530.3,371.7 1530.9,377.3 1531.4,384.4 1532,384.2 1532.5,377.2 1533.1,375.4 1533.6,407.7 1534.2,377.8 1534.7,372.4 1535.3,379.9 1535.9,377.9 1536.4,378 1537,375.1 1537.5,381.5 1538.1,376.6 1538.6,387.6 1539.2,382.3 1539.7,384.7 1540.3,385 1540.8,376.1 1541.4,386.1 1542,385.2 1542.5,382.1 1543.1,386 1543.6,379.4 1544.2,377 1544.7,378 1545.3,385 1545.8,382.3 1546.4,381 1546.9,385.8 1547.5,374.8 1548,373.7 1548.6,381.9 1549.2,383.4 1549.7,385.7 1550.3,380 1550.8,382.7 1551.4,378.3 1551.9,374.9 1552.5,385.1 1553,397 1553.6,374.6 1554.1,381.7 1554.7,382 1555.3,382.6 1555.8,378.8 1556.4,377.1 1556.9,377.8 1557.5,376.2 1558,380.5 1558.6,373.8 1559.1,379 1559.7,380 1560.2,384.8 1560.8,379.5 1561.4,376.4 1561.9,380.5 1562.5,372.3 1563,375.9 1563.6,379.1 1564.1,380.5 1564.7,374.4 1565.2,383.1 1565.8,375.7 1566.3,385.9 1566.9,385.4 1567.4,376.8 1568,371.8 1568.6,380.3 1569.1,384.2 1569.7,379.1 1570.2,384.5 1570.8,378.1 1571.3,379.6 1571.9,377.7 1572.4,373 1573,374.9 1573.5,384.8 1574.1,379.3 1574.7,382.6 1575.2,382.3 1575.8,374.9 1576.3,373 1576.9,374.7 1577.4,373 1578,376.2 1578.5,381.2 1579.1,378.7 1579.6,376.3 1580.2,384.8 1580.8,377.3 1581.3,386.8 1581.9,375.7 1582.4,376.6 1583,376.6 1583.5,376.4 1583.5,544 1584.1,531.4 1584.6,543.3 1585.2,534.1 1585.7,531.3 1586.3,535 1586.8,537 1587.4,539.5 1588,544.3 1588.5,537.9 1589.1,539.1 1589.6,540.3 1590.2,533 1590.7,536.8 1591.3,541.7 1591.8,533.2 1592.4,533.1 1592.9,540.5 1593.5,539.1 1594.1,534.1 1594.6,535.9 1595.2,533.9 1595.7,533.7 1596.3,540.3 1596.8,532.3 1597.4,536.1 1597.9,543.9 1598.5,543.6 1599,534.8 1599.6,535.6 1600.2,535.8 1600.7,537.8 1601.3,534.9 1601.8,537.5 1602.4,535 1602.9,540.4 1603.5,537.9 1604,536.5 1604.6,533.5 1605.1,533.1 1605.7,543.1 1606.2,535.6 1606.8,533.7 1607.4,537.1 1607.9,540.3 1608.5,546.2 1609,535.2 1609.6,546.1 1610.1,537.4 1610.7,532.9 1611.2,545.4 1611.8,532.4 1612.3,532.3 1612.9,533.5 1613.5,545.2 1614,532.2 1614.6,533.6 1615.1,536.3 1615.7,544.2 1616.2,544.4 1616.8,541.9 1617.3,536.2 1617.9,541.3 1618.4,543.7 1619,539.9 1619.6,542 1620.1,534.9 1620.7,530.6 1621.2,536.5 1621.8,542.5 1622.3,532.4 1622.9,531.6 1623.4,536.3 1624,534.1 1624.5,529.7 1625.1,541.4 1625.6,540.2 1626.2,543.9 1626.8,529.9 1627.3,531.3 1627.9,535.9 1628.4,540.4 1629,533.6 1629.5,531.4 1630.1,531.5 1630.6,535.4 1631.2,535 1631.7,543.4 1632.3,536.6 1632.9,536.8 1633.4,544.1 1634,538.2 1634.5,531.2 1635.1,530.8 1635.6,536.9 1636.2,534 1636.7,540.2 1637.3,538.9 1637.8,535 1638.4,531.4 1639,535.5 1639.5,541.4 1640.1,539.5 1640.6,533.2 1641.2,532.4 1641.7,540.8 1642.3,546.1 1642.8,544.9 1643.4,543.1 1643.9,532.2 1644.5,542.6 1645,535.8 1645.6,545.3 1646.2,536.8 1646.7,537.5 1647.3,542.3 1647.8,532.9 1648.4,538.1 1648.9,534.3 1649.5,541.4 1650,535.8 1650.6,537.7 1651.1,544.6 1651.7,539.7 1652.3,543.9 1652.8,543 1653.4,535.3 1653.9,542.6 1654.5,545.3 1655,542.8 1655.6,542.1 1656.1,533.7 1656.7,538.8 1657.2,532.2 1657.8,538.5 1658.4,532.2 1658.9,543.3 1659.5,537.6 1660,536.6 1660.6,541.5 1661.1,538.8 1661.7,534.4 1662.2,539.8 1662.8,537.6 1663.3,535.7 1663.9,542.1 1664.4,539.4 1665,536.9 1665.6,544.4 1666.1,538.8 1666.7,538.9 1667.2,536.4 1667.8,535.2 1668.3,536 1668.9,533.6 1669.4,542.8 1670,531 1670.5,543.6 1671.1,539.9 1671.7,532.4 1672.2,531.4 1672.8,534.4 1673.3,535.6 1673.9,543.6 1674.4,537.7 1675,537.6 1675.5,544 1676.1,540.1 1676.6,541.3 1677.2,533.8 1677.8,538.4 1678.3,532.3 1678.9,533.3 1679.4,539.9 1680,533.3 1680.5,538.6 1681.1,536.2 1681.6,533.8 1682.2,531 1682.7,535.6 1683.3,537.6 1683.8,536.8 1684.4,540.2 1685,545.9 1685.5,544 1686.1,537.4 1686.6,542.3 1687.2,534.7 1687.7,544.7 1688.3,534.3 1688.8,536.5 1689.4,543.8 1689.9,546.3 1690.5,531.9 1691.1,546 1691.6,533 1692.2,543.1 1692.7,537.4 1693.3,535.4 1693.8,540.3 1694.4,542.6 1694.9,537.1 1695.5,535.4 1696,533.8 1696.6,543.1 1696.6,613.1 1697.1,613.9 1697.7,615.3 1698.3,626 1698.8,610.7 1699.4,615.3 1699.9,611.5 1700.5,608 1701,606.5 1701.6,613.4 1702.1,612.8 1702.7,609.7 1703.2,606.6 1703.8,616.3 1704.4,616.5 1704.9,606.3 1705.5,609.1 1706,607.7 1706.6,611.6 1707.1,614.2 1707.7,614.7 1708.2,616.4 1708.8,613.1 1709.3,614.8 1709.9,612.3 1710.5,616.9 1711,612.6 1711.6,613.3 1712.1,609.5 1712.7,618 1713.2,618.3 1713.8,614.2 1714.3,614.1 1714.9,610.3 1715.4,607.6 1716,609 1716.5,611.3 1717.1,618 1717.7,607.1 1718.2,608.4 1718.8,618 1719.3,610.9 1719.9,615.6 1720.4,614.7 1721,609.5 1721.5,605.8 1722.1,605.3 1722.6,616.3 1723.2,618 1723.8,608.5 1724.3,615 1724.9,612.1 1725.4,614.7 1726,610.7 1726.5,616 1727.1,619.6 1727.6,612.4 1728.2,617 1728.7,608.8 1729.3,613.3 1729.9,619 1730.4,609.4 1731,607.1 1731.5,610 1732.1,610.7 1732.6,617.2 1733.2,608.6 1733.7,609.9 1734.3,617.6 1734.8,612.1 1735.4,620.9 1735.9,641.1 1736.5,608.2 1737.1,609.5 1737.6,618.5 1738.2,614.6 1738.7,619.2 1739.3,611.4 1739.8,618.7 1740.4,607.1 1740.9,614.2 1741.5,620 1742,610.4 1742.6,608.5 1743.2,611.1 1743.7,620.8 1744.3,620.6 1744.8,616.1 1745.4,620.6 1745.9,610.4 1746.5,616.5 1747,614.1 1747.6,609.2 1748.1,608 1748.7,615.2 1749.3,612.5 1749.8,612 1750.4,610.8 1750.9,608.5 1751.5,619.2 1752,614 1752.6,607 1753.1,612.2 1753.7,609.5 1754.2,610.6 1754.8,616.6 1755.3,619 1755.9,612.2 1756.5,607.1 1757,615.6 1757.6,604.7 1758.1,613.7 1758.7,610.8 1759.2,609.1 1759.8,604.9 1760.3,608.3 1760.9,605.3 1761.4,615.6 1762,608.8 1762.6,617.3 1763.1,615.1 1763.7,615.6 1764.2,618.8 1764.8,618.7 1765.3,613.7 1765.9,611.7 1766.4,611.3 1767,613.3 1767.5,611 1768.1,608.2 1768.7,610.8 1769.2,617.3 1769.8,607.2 1770.3,605.5 1770.9,619.4 1771.4,615.8 1772,614.3 1772.5,610 1773.1,610.3 1773.6,610.6 1774.2,605.7 1774.7,615.5 1775.3,609.3 1775.9,618.5 1776.4,620.1 1777,614.2 1777.5,610.3 1778.1,616.2 1778.6,608.6 1779.2,617.6 1779.7,617.4 1780.3,619 1780.8,607.2 1781.4,613.6 1782,619.5 1782.5,613.5 1783.1,613.7 1783.6,612 1784.2,619.5 1784.7,617.6 1785.3,614.4 1785.8,609.9 1786.4,615.4 1786.9,610.9 1787.5,608.6 1788.1,607.9 1788.6,619.4 1789.2,614.2 1789.7,612.9 1790.3,618.9 1790.8,619 1791.4,616.1 1791.9,606.4 1792.5,616.3 1793,620.2 1793.6,610.6 1794.1,607.4 1794.7,618.8 1795.3,610.4 1795.8,613 1796.4,606.5 1796.9,616.6 1797.5,610.8 1798,611 1798.6,609.4 1799.1,618.2 1799.7,616.8 1800.2,609.2 1800.8,609.6 1801.4,615.2 1801.9,616.8 1802.5,606.3 1803,604.2 1803.6,612.7 1804.1,616.7 1804.7,618.8 1805.2,608.9 1805.8,610.3 1806.3,611.6 1806.9,617.5 1807.5,612.7 1808,607.6 1808.6,607.3 1809.1,607.6 1809.7,613.5 1809.7,740 1810.2,737.7 1810.8,733 1811.3,743.7 1811.9,733.4 1812.4,734.1 1813,741 1813.5,730.8 1814.1,737.1 1814.7,737.4 1815.2,744 1815.8,731.2 1816.3,738.3 1816.9,744.3 1817.4,735 1818,740.4 1818.5,744.3 1819.1,740.8 1819.6,732.5 1820.2,733.4 1820.8,738.2 1821.3,729.9 1821.9,742.8 1822.4,735.9 1823,742 1823.5,730.8 1824.1,741.2 1824.6,736.4 1825.2,732 1825.7,739.3 1826.3,736.5 1826.9,738.8 1827.4,734.1 1828,734.9 1828.5,739.3 1829.1,737.2 1829.6,732.8 1830.2,738.2 1830.7,737.6 1831.3,730.4 1831.8,736.7 1832.4,728 1832.9,741.7 1833.5,739.4 1834.1,736.7 1834.6,741.5 1835.2,730.1 1835.7,738.8 1836.3,732.4 1836.8,735.1 1837.4,740.7 1837.9,730.5 1838.5,731.7 1839,732.8 1839.6,737.2 1840.2,734.6 1840.7,737.4 1841.3,733.2 1841.8,742.2 1842.4,729.1 1842.9,735 1843.5,728.6 1844,734.9 1844.6,737 1845.1,732 1845.7,731.8 1846.3,729 1846.8,739.2 1847.4,737.5 1847.9,733.4 1848.5,729.5 1849,741.9 1849.6,735.6 1850.1,741 1850.7,739.9 1851.2,740.7 1851.8,732.9 1852.3,739.2 1852.9,740.7 1853.5,736.3 1854,738.5 1854.6,737.8 1855.1,734.3 1855.7,739.8 1856.2,730.8 1856.8,739.2 1857.3,735.1 1857.9,735.8 1858.4,737.7 1859,732.3 1859.6,730.8 1860.1,735.7 1860.7,738 1861.2,738.9 1861.8,742.5 1862.3,731.1 1862.9,732.9 1863.4,733.4 1864,743.3 1864.5,733.7 1865.1,737.8 1865.7,736.8 1866.2,735.3 1866.8,737.8 1867.3,741.8 1867.9,733.6 1868.4,733 1869,740.8 1869.5,733.6 1870.1,735.8 1870.6,733.6 1871.2,734.7 1871.7,741.3 1872.3,739.4 1872.9,733.8 1873.4,730.8 1874,742.4 1874.5,730.3 1875.1,738 1875.6,740.3 1876.2,733 1876.7,736.8 1877.3,741.9 1877.8,739.3 1878.4,732.8 1879,742 1879.5,732.5 1880.1,728.7 1880.6,735.3 1881.2,738.4 1881.7,730.4 1882.3,727.6 1882.8,740.8 1883.4,739.4 1883.9,738.6 1884.5,739.3 1885,731.4 1885.6,738.7 1886.2,730.6 1886.7,729.1 1887.3,729.9 1887.8,737.4 1888.4,741.1 1888.9,741.1 1889.5,734.3 1890,729.6 1890.6,734.7 1891.1,732.6 1891.7,730.8 1892.3,741.3 1892.8,729.4 1893.4,732.6 1893.9,730.1 1894.5,729.2 1895,729.3 1895.6,742.7 1896.1,735.8 1896.7,733.2 1897.2,741.4 1897.8,741.9 1898.4,730.4 1898.9,731.3 1899.5,741.2 1900,740.2 1900.6,743 1901.1,741.4 1901.7,739.9 1902.2,732.9 1902.8,731.7 1903.3,734 1903.9,730.7 1904.4,734.4 1905,732.9 1905.6,743.6 1906.1,732.5 1906.7,742.7 1907.2,742.8 1907.8,741.4 1908.3,741.6 1908.9,737.6 1909.4,740.4 1910,732 1910.5,730.5 1911.1,735.7 1911.7,742.9 1912.2,736.6 1912.8,735.6 1913.3,739.1 1913.9,740.5 1914.4,733.5 1915,734.2 1915.5,732.9 1916.1,741.4 1916.6,735.8 1917.2,728.8 1917.8,738.5 1918.3,734 1918.9,731.6 1919.4,741.2 1920,731.7 1920.5,742.5 1921.1,737.8 1921.6,740.8 1922.2,739.3 1922.7,728.2 1922.7,791.7 1923.3,785.9 1923.8,788 1924.4,788 1925,789.9 1925.5,795.7 1926.1,797.8 1926.6,790.1 1927.2,788.9 1927.7,787.4 1928.3,794.5 1928.8,787.9 1929.4,794.4 1929.9,793.7 1930.5,791.8 1931.1,789.1 1931.6,787.4 1932.2,790.4 1932.7,789.3 1933.3,791.2 1933.8,796.3 1934.4,790.7 1934.9,784.1 1935.5,789.6 1936,791.1 1936.6,796.9 1937.2,793.1 1937.7,790.9 1938.3,790.8 1938.8,785.2 1939.4,785.1 1939.9,796.4 1940.5,790.3 1941,787.7 1941.6,794.9 1942.1,790 1942.7,788 1943.2,794.1 1943.8,787.5 1944.4,794.6 1944.9,787.5 1945.5,793.4 1946,795.2 1946.6,791.1 1947.1,792.5 1947.7,798.9 1948.2,791.2 1948.8,793.5 1949.3,798.9 1949.9,786.6 1950.5,790 1951,787.7 1951.6,795.5 1952.1,788.6 1952.7,793.8 1953.2,796.2 1953.8,798.1 1954.3,794 1954.9,794.5 1955.4,789.7 1956,791.1 1956.6,789.2 1957.1,792 1957.7,793.3 1958.2,790.2 1958.8,792.3 1959.3,786 1959.9,787.5 1960.4,794 1961,791.3 1961.5,792.7 1962.1,794.9 1962.6,793 1963.2,791.7 1963.8,785.5 1964.3,797.1 1964.9,793.1 1965.4,787.2 1966,788.5 1966.5,798.7 1967.1,795.3 1967.6,795.8 1968.2,791.5 1968.7,789.1 1969.3,793.3 1969.9,786 1970.4,797.5 1971,795.5 1971.5,790.2 1972.1,792.3 1972.6,788.3 1973.2,798.4 1973.7,789.9 1974.3,792.3 1974.8,790.9 1975.4,788.4 1976,792.2 1976.5,784.5 1977.1,794.8 1977.6,784.8 1978.2,789.8 1978.7,797.8 1979.3,792 1979.8,796.4 1980.4,785.8 1980.9,784.1 1981.5,795.6 1982,797.6 1982.6,793.2 1983.2,794.4 1983.7,794.5 1984.3,794.4 1984.8,791.6 1985.4,789 1985.9,790.1 1986.5,795.9 1987,795 1987.6,784.3 1988.1,789.6 1988.7,790.3 1989.3,789.8 1989.8,786.6 1990.4,788.7 1990.9,793.4 1991.5,788.1 1992,787.2 1992.6,786.7 1993.1,797.9 1993.7,794.3 1994.2,791.7 1994.8,791.1 1995.4,796.1 1995.9,788.5 1996.5,792.4 1997,792.4 1997.6,789.7 1998.1,789.2 1998.7,796.6 1999.2,797.7 1999.8,798 2000.3,787.8 2000.9,792.3 2001.4,786.7 2002,787.1 2002.6,788.9 2003.1,794.5 2003.7,785.9 2004.2,799.4 2004.8,786.8 2005.3,799.5 2005.9,794.5 2006.4,786.5 2007,796.4 2007.5,790.6 2008.1,796.9 2008.7,794.5 2009.2,793 2009.8,793.4 2010.3,798.6 2010.9,794.2 2011.4,792.6 2012,798.9 2012.5,799.1 2013.1,787.2 2013.6,792.7 2014.2,798.9 2014.8,794.9 2015.3,786.1 2015.9,792.7 2016.4,795 2017,795.7 2017.5,784.2 2018.1,784 2018.6,786.9 2019.2,789 2019.7,788.6 2020.3,794.5 2020.8,789.3 2021.4,791.8 2022,794.9 2022.5,792.7 2023.1,796.3 2023.6,790.8 2024.2,791.1 2024.7,797 2025.3,786.9 2025.8,787.2 2026.4,787.2 2026.9,788.8 2027.5,788.6 2028.1,798.2 2028.6,784.2 2029.2,789.4 2029.7,788.1 2030.3,794 2030.8,793.4 2031.4,784.8 2031.9,798.6 2032.5,787.6 2033,790.2 2033.6,793.4 2034.2,790 2034.7,790.6 2035.3,798.6 2035.8,793.3 2035.8,815.4 2036.4,811.2 2036.9,814.7 2037.5,810.8 2038,813.9 2038.6,811.6 2039.1,815.6 2039.7,809.4 2040.2,814.4 2040.8,813.7 2041.4,815.7 2041.9,806 2042.5,815.1 2043,805 2043.6,814.6 2044.1,808.3 2044.7,815.5 2045.2,809.3 2045.8,813.7 2046.3,808.9 2046.9,814.2 2047.4,815.2 2048,813.6 2048.5,815 2049.1,813.9 2049.7,803.8 2050.2,815 2050.8,811.9 2051.3,813.2 2051.9,814.8 2052.4,815.1 2053,810.9 2053.5,815.3 2054.1,805.7 2054.6,815.1 2055.2,813.2 2055.7,814.9 2056.3,813.6 2056.9,813.5 2057.4,810.5 2058,813.7 2058.5,813.1 2059.1,814.6 2059.6,810.5 2060.2,814.2 2060.7,806.5 2061.3,814.6 2061.8,810.7 2062.4,814.2 2062.9,802.8 2063.5,814.4 2064,805.5 2064.6,814.2 2065.2,812.2 2065.7,814.2 2066.3,804 2066.8,815 2067.4,804.4 2067.9,814.8 2068.5,804.4 2069,815.1 2069.6,804.1 2070.1,814.7 2070.7,807.3 2071.2,813.9 2071.8,812.5 2072.4,813.7 2072.9,803.3 2073.5,814.1 2074,809.1 2074.6,815.1 2075.1,803.7 2075.7,815.4 2076.2,803.3 2076.8,813.6 2077.3,807.5 2077.9,814.5 2078.4,802.3 2079,813.8 2079.6,813.5 2080.1,814 2080.7,809.8 2081.2,814.9 2081.8,810.9 2082.3,814.1 2082.9,812.6 2083.4,815.6 2084,807.6 2084.5,815.3 2085.1,805.7 2085.6,815.6 2086.2,809.5 2086.7,814.7 2087.3,810 2087.9,815.2 2088.4,804.2 2089,813.5 2089.5,808.8 2090.1,815.3 2090.6,805.6 2091.2,815.2 2091.7,811.3 2092.3,815.3 2092.8,807.5 2093.4,814.5 2093.9,816.3 2094.5,814 2095.1,814.7 2095.6,814.2 2096.2,814.6 2096.7,814.5 2097.3,814.3 2097.8,813.6 2098.4,815.5 2098.9,815.4 2099.5,804.5 2100,814 2100.6,806.3 2101.1,814 2101.7,812.8 2102.3,815.4 2102.8,813.4 2103.4,815.4 2103.9,810.3 2104.5,815.6 2105,815.4 2105.6,815.5 2106.1,812.7 2106.7,813.3 2107.2,808.8 2107.8,814.6 2108.3,811.1 2108.9,815.1 2109.4,812.9 2110,815.4 2110.6,809.2 2111.1,814.9 2111.7,811.2 2112.2,815.1 2112.8,809.7 2113.3,814.7 2113.9,805.3 2114.4,815.2 2115,813.4 2115.5,815.1 2116.1,808.8 2116.6,815.6 2117.2,805.1 2117.8,814.4 2118.3,802 2118.9,814.5 2119.4,808.1 2120,814.4 2120.5,812.4 2121.1,813.5 2121.6,805.3 2122.2,814 2122.7,812.2 2123.3,815.5 2123.8,804.6 2124.4,815.6 2125,810.7 2125.5,814.7 2126.1,808.2 2126.6,814.7 2127.2,813.4 2127.7,813.3 2128.3,808.8 2128.8,814.6 2129.4,802.4 2129.9,813.5 2130.5,803.7 2131,813.5 2131.6,802.9 2132.1,813.6 2132.7,807.7 2133.3,814.4 2133.8,805.4 2136,811.7 2136,590 2136.5,596.4 2137,600.2 2137.5,589.4 2138,592.9 2138.5,596.5 2139,593.7 2139.5,590.3 2139.8,536.7 2140.2,539.4 2140.6,540.3 2141.1,543.6 2141.5,537.7 2141.9,541.3 2142.3,537.2 2142.8,541.7 2143.2,543.4 2143.6,542.6 2144,540.7 2144.4,543.3 2144.9,543.2 2145.3,541.1 2145.7,542.7 2146.1,539.9 2146.5,544.1 2147,541.8 2147.4,541.5 2147.8,542.4 2148.2,539 2148.7,541.9 2149.1,539.1 2149.5,544.2 2149.9,537.4 2150.3,540.3 2150.8,541.5 2151.2,542.7 2151.6,538.7 2151.8,702 2152.5,698.1 2152.9,714 2153.3,702.9 2153.7,709.6 2154.1,718.6 2154.4,711.3 2154.8,713.9 2155.2,725 2155.6,726 2156,721.2 2155.5,704.9 2156.1,750.6 2156.6,704.4 2157.2,749.1 2157.7,710.4 2158.3,756 2158.8,707.6 2159.4,756.5 2159.9,704.6 2160.5,756.5 2161,704.3 2161.6,757.3 2162.1,710.5 2162.7,763 2163.2,706 2163.8,755.2 2164.3,709 2164.9,757.5 2165.4,705.4 2164.8,772 2166,668 2166.2,665.3 2166.8,665.4 2167.3,663.1 2167.9,665.2 2168.4,666.6 2169,664.5 2169.6,668.3 2170.1,667.7 2170.7,667.9 2171.2,664.1 2171.8,666.9 2172.4,666.9 2172.9,667.6 2173.5,669.7 2174,666.2 2174.6,665.7 2174.8,688" fill="none" stroke="#2f5597" stroke-width="6.9" stroke-linejoin="round" stroke-linecap="round"/>
<path d="M227.3,817.7 344.2,817.7 369.1,794.3 450.5,794.3 492.7,753 566.6,753 603.1,712.7 679.6,712.7 717.3,672 790.8,672 828.9,630.8 905.8,630.8 925.8,609 942,605.5 1024.9,605.5 1056.5,600.3 1267.6,600.3 1270.3,597.3 1277,597.3 1280.8,592.2 1359.2,592.2 1394.6,550.5 1472.3,550.5 1508.8,507.4 1584.2,507.4 1620.4,465.5 1697.3,465.5 1736.1,421.7 1811.1,421.7 1833,397.2 1844.3,393.6 1934.7,393.6 1947.9,391.8 2176,391.8" fill="none" stroke="#ed7d31" stroke-width="5.8" stroke-linejoin="round" stroke-linecap="round"/>
<path d="M227.3,817.7 340.4,817.7 340.4,699.4 378.1,699.4 378.1,817.7 453.5,817.7 453.5,699.4 491.2,699.4 491.2,817.7 566.6,817.7 566.6,699.4 604.3,699.4 604.3,817.7 679.6,817.7 679.6,699.4 717.3,699.4 717.3,817.7 792.7,817.7 792.7,699.4 830.4,699.4 830.4,817.7 905.8,817.7 905.8,699.4 943.5,699.4 943.5,817.7 1018.9,817.7 1018.9,699.4 1056.5,699.4 1056.5,817.7 1245,817.7 1245,699.4 1282.7,699.4 1282.7,817.7 1358.1,817.7 1358.1,699.4 1395.8,699.4 1395.8,817.7 1471.1,817.7 1471.1,699.4 1508.8,699.4 1508.8,817.7 1584.2,817.7 1584.2,699.4 1621.9,699.4 1621.9,817.7 1697.3,817.7 1697.3,699.4 1735,699.4 1735,817.7 1810.4,817.7 1810.4,699.4 1848.1,699.4 1848.1,817.7 1923.4,817.7 1923.4,699.4 1961.1,699.4 1961.1,817.7 2111.9,817.7 2111.9,699.4 2137.7,699.4 2137.7,817.7 2174.5,817.7" fill="none" stroke="#7f7f7f" stroke-width="5.4" stroke-linejoin="round" stroke-linecap="round"/>
</g>
<rect x="1729.6" y="122.2" width="543.6" height="221.4" fill="#fff" stroke="#000" stroke-width="2.4"/>
<line x1="1795.5" y1="158.8" x2="1842.5" y2="158.8" stroke="#2f5597" stroke-width="7.4" stroke-linecap="round"/>
<line x1="1795.5" y1="233.4" x2="1842.5" y2="233.4" stroke="#ed7d31" stroke-width="5.6" stroke-linecap="round"/>
<line x1="1795.5" y1="307.1" x2="1842.5" y2="307.1" stroke="#7f7f7f" stroke-width="5.6" stroke-linecap="round"/>
<text transform="translate(1847.69,171.60) scale(0.8846,1)" font-size="41">PPFD</text>
<text transform="translate(1847.87,246.40) scale(0.9562,1)" font-size="41">CO2 Injected</text>
<text transform="translate(1847.89,320.00) scale(0.9395,1)" font-size="41">CO2 Control Switch</text>
</g>
<g id="panelB">
<line x1="216.6" y1="1573.6" x2="2307.5" y2="1573.6" stroke="#d2d2d2" stroke-width="2"/>
<line x1="216.6" y1="1429.6" x2="2307.5" y2="1429.6" stroke="#d2d2d2" stroke-width="2"/>
<line x1="216.6" y1="1285.7" x2="2307.5" y2="1285.7" stroke="#d2d2d2" stroke-width="2"/>
<line x1="216.6" y1="1141.7" x2="2307.5" y2="1141.7" stroke="#d2d2d2" stroke-width="2"/>
<rect x="214.00" y="997.60" width="2093.50" height="719.80" fill="none" stroke="#000" stroke-width="2.3"/>
<path d="M2307.50,997.60h13.4M2307.50,1117.57h13.4M2307.50,1237.53h13.4M2307.50,1357.50h13.4M2307.50,1477.47h13.4M2307.50,1597.43h13.4M2307.50,1717.40h13.4" fill="none" stroke="#000" stroke-width="2.3" stroke-linecap="round"/>
<g clip-path="url(#cb)">
<path d="M215.3,1706 216.2,1706 216.2,1694 217.9,1694 217.9,1686.9 219.6,1686.9 219.6,1681.5 221.3,1681.5 221.3,1676.5 223,1676.5 223,1672 224.7,1672 224.7,1667.8 226.4,1667.8 226.4,1663.8 228.1,1663.8 228.1,1659.8 229.8,1659.8 229.8,1656.1 231.5,1656.1 231.5,1652.5 233.2,1652.5 233.2,1648.9 234.9,1648.9 234.9,1645.3 236.6,1645.3 236.6,1641.6 238.3,1641.6 238.3,1637.8 240,1637.8 240,1634 241.7,1634 241.7,1630.2 243.4,1630.2 243.4,1626.4 245.1,1626.4 245.1,1622.7 246.8,1622.7 246.8,1618.9 248.5,1618.9 248.5,1615.1 250.3,1615.1 250.3,1611.5 252,1611.5 252,1607.8 253.7,1607.8 253.7,1604.2 255.4,1604.2 255.4,1600.7 257.1,1600.7 257.1,1597.2 258.8,1597.2 258.8,1593.7 260.5,1593.7 260.5,1590.3 262.2,1590.3 262.2,1586.9 263.9,1586.9 263.9,1583.5 265.6,1583.5 265.6,1580.1 267.3,1580.1 267.3,1576.7 269,1576.7 269,1573.4 270.7,1573.4 270.7,1570 272.4,1570 272.4,1566.7 274.1,1566.7 274.1,1563.4 275.8,1563.4 275.8,1560 277.5,1560 277.5,1556.7 279.2,1556.7 279.2,1553.5 280.9,1553.5 280.9,1550.2 282.7,1550.2 282.7,1546.9 284.4,1546.9 284.4,1543.6 286.1,1543.6 286.1,1540.4 287.8,1540.4 287.8,1537.1 289.5,1537.1 289.5,1533.9 291.2,1533.9 291.2,1530.6 292.9,1530.6 292.9,1527.4 294.6,1527.4 294.6,1524.1 296.3,1524.1 296.3,1520.9 298,1520.9 298,1517.6 299.7,1517.6 299.7,1514.4 301.4,1514.4 301.4,1511.1 303.1,1511.1 303.1,1507.9 304.8,1507.9 304.8,1504.6 306.5,1504.6 306.5,1501.4 308.2,1501.4 308.2,1498.1 309.9,1498.1 309.9,1494.9 311.6,1494.9 311.6,1491.7 313.3,1491.7 313.3,1488.4 315,1488.4 315,1485.2 315.9,1485.2 316.1,1717 316.3,1484.6 330.4,1461.5 334,1500 337.7,1535.5 338.6,1480 339.6,1432 341,1445 345,1480 349,1505 352.3,1526 352.7,1470 352.2,1419 354.5,1419 356,1385 357,1355.5 358,1410 358.9,1463 360,1425 361.3,1391 362.5,1445 363.7,1494.4 364.6,1494.4 364.6,1513 366.3,1513 366.3,1531.4 368,1531.4 368,1549.4 369.7,1549.4 369.7,1567.2 371.4,1567.2 371.4,1585.4 373.1,1585.4 373.1,1604 374.8,1604 374.8,1621.8 376.6,1621.8 376.6,1637.7 378.3,1637.7 378.3,1652.6 380,1652.6 380,1666.3 381.7,1666.3 381.7,1677.7 383.4,1677.7 383.4,1686.6 385.1,1686.6 385.1,1694.2 386.9,1694.2 386.9,1699.2 388.6,1699.2 388.6,1701.8 390.3,1701.8 390.3,1703.8 392,1703.8 392,1705.1 393.7,1705.1 393.7,1705.6 395.4,1705.6 395.4,1705.9 397.1,1705.9 397.1,1706.1 398.9,1706.1 398.9,1706.2 400.6,1706.2 400.6,1706.3 402.3,1706.3 402.3,1706.3 404,1706.3 404,1706.3 405.7,1706.3 405.7,1706.3 407.4,1706.3 407.4,1706.3 409.2,1706.3 409.2,1706.3 410.9,1706.3 410.9,1706.3 412.6,1706.3 412.6,1706.3 414.3,1706.3 414.3,1706.3 416,1706.3 416,1706.3 417.7,1706.3 417.7,1706.3 419.4,1706.3 419.4,1706.3 421.2,1706.3 421.2,1706.3 422.9,1706.3 422.9,1706.3 424.6,1706.3 424.6,1706.3 426.3,1706.3 426.3,1706.3 428,1706.3 428,1706.3 429.7,1706.3 429.7,1706.3 431.5,1706.3 431.5,1706.3 433.2,1706.3 433.2,1706.3 434.9,1706.3 434.9,1706.3 436.6,1706.3 436.6,1706.3 438.3,1706.3 438.3,1706.3 440,1706.3 440,1706.3 441.7,1706.3 441.7,1706.3 442.6,1706.3 443,1700 443.9,1700 443.9,1689.8 445.6,1689.8 445.6,1678.5 447.3,1678.5 447.3,1670.7 449,1670.7 449,1666.2 450.7,1666.2 450.7,1662.8 452.4,1662.8 452.4,1659.8 454.1,1659.8 454.1,1657 455.8,1657 455.8,1654.5 457.5,1654.5 457.5,1652.3 459.2,1652.3 459.2,1650.2 460.9,1650.2 460.9,1648.3 462.7,1648.3 462.7,1646.5 464.4,1646.5 464.4,1644.8 466.1,1644.8 466.1,1643.2 467.8,1643.2 467.8,1641.6 469.5,1641.6 469.5,1640 471.2,1640 471.2,1638.4 472.9,1638.4 472.9,1636.6 474.6,1636.6 474.6,1634.8 476.3,1634.8 476.3,1633 478,1633 478,1631.2 479.7,1631.2 479.7,1629.3 480.6,1629.3 481.5,1640 482.4,1640 482.4,1653.4 484.1,1653.4 484.1,1665.4 485.8,1665.4 485.8,1676.3 487.5,1676.3 487.5,1685.9 489.2,1685.9 489.2,1692.3 490.9,1692.3 490.9,1696.7 492.6,1696.7 492.6,1699.6 494.3,1699.6 494.3,1701.6 496,1701.6 496,1703.1 497.7,1703.1 497.7,1704.1 499.4,1704.1 499.4,1705 501.1,1705 501.1,1705.7 502.8,1705.7 502.8,1706.2 504.5,1706.2 504.5,1706.3 506.2,1706.3 506.2,1706.3 507.9,1706.3 507.9,1706.3 509.6,1706.3 509.6,1706.3 511.3,1706.3 511.3,1706.3 513,1706.3 513,1706.3 514.7,1706.3 514.7,1706.3 516.4,1706.3 516.4,1706.3 518.1,1706.3 518.1,1706.3 519.9,1706.3 519.9,1706.3 521.6,1706.3 521.6,1706.3 523.3,1706.3 523.3,1706.3 525,1706.3 525,1706.3 526.7,1706.3 526.7,1706.3 528.4,1706.3 528.4,1706.3 530.1,1706.3 530.1,1706.3 531.8,1706.3 531.8,1706.3 533.5,1706.3 533.5,1706.3 535.2,1706.3 535.2,1706.3 536.9,1706.3 536.9,1706.3 538.6,1706.3 538.6,1706.3 540.3,1706.3 540.3,1706.3 542,1706.3 542,1706.3 543.7,1706.3 543.7,1706.3 545.4,1706.3 545.4,1706.3 547.1,1706.3 547.1,1706.3 548.8,1706.3 548.8,1706.3 550.5,1706.3 550.5,1706.3 552.2,1706.3 552.2,1706.3 553.9,1706.3 553.9,1706.3 555.6,1706.3 555.6,1706.3 556.5,1706.3 557,1700 557.9,1700 557.9,1689.1 559.6,1689.1 559.6,1676.9 561.3,1676.9 561.3,1663 563,1663 563,1649 564.7,1649 564.7,1636.4 566.4,1636.4 566.4,1624 568.1,1624 568.1,1613 569.8,1613 569.8,1604.2 571.5,1604.2 571.5,1597 573.2,1597 573.2,1590.7 574.9,1590.7 574.9,1584.9 576.7,1584.9 576.7,1579.3 578.4,1579.3 578.4,1573.6 580.1,1573.6 580.1,1568.1 581.8,1568.1 581.8,1562.8 583.5,1562.8 583.5,1557.8 585.2,1557.8 585.2,1553.1 586.9,1553.1 586.9,1548.8 588.6,1548.8 588.6,1544.7 590.3,1544.7 590.3,1540.9 592,1540.9 592,1537.3 593.7,1537.3 593.7,1534 594.6,1534 598.1,1569.9 598.9,1569.9 598.9,1583.9 600.6,1583.9 600.6,1596 602.3,1596 602.3,1605.6 604,1605.6 604,1613.7 605.7,1613.7 605.7,1621.4 607.4,1621.4 607.4,1629.7 609.1,1629.7 609.1,1638.4 610.7,1638.4 610.7,1647 612.4,1647 612.4,1655 614.1,1655 614.1,1662.4 615.8,1662.4 615.8,1669.3 617.5,1669.3 617.5,1675.5 619.2,1675.5 619.2,1680.8 620.9,1680.8 620.9,1685.7 622.5,1685.7 622.5,1689.8 624.2,1689.8 624.2,1693.2 625.9,1693.2 625.9,1696.2 627.6,1696.2 627.6,1698.6 629.3,1698.6 629.3,1700.3 631,1700.3 631,1701.4 632.7,1701.4 632.7,1702.4 634.4,1702.4 634.4,1703.1 636,1703.1 636,1703.7 637.7,1703.7 637.7,1704.2 639.4,1704.2 639.4,1704.6 641.1,1704.6 641.1,1705 642.8,1705 642.8,1705.3 644.5,1705.3 644.5,1705.6 646.2,1705.6 646.2,1705.8 647.8,1705.8 647.8,1706.1 649.5,1706.1 649.5,1706.2 651.2,1706.2 651.2,1706.3 652.9,1706.3 652.9,1706.3 654.6,1706.3 654.6,1706.3 656.3,1706.3 656.3,1706.3 658,1706.3 658,1706.3 659.6,1706.3 659.6,1706.3 661.3,1706.3 661.3,1706.3 663,1706.3 663,1706.3 664.7,1706.3 664.7,1706.3 666.4,1706.3 666.4,1706.3 668.1,1706.3 668.1,1706.3 669.8,1706.3 669.8,1706.3 670.6,1706.3 671.2,1700 672,1700 672,1691.5 673.7,1691.5 673.7,1675.4 675.4,1675.4 675.4,1647.2 677.1,1647.2 677.1,1627.4 678.8,1627.4 678.8,1611.6 680.5,1611.6 680.5,1597.9 682.2,1597.9 682.2,1585.4 683.9,1585.4 683.9,1574.3 685.6,1574.3 685.6,1564.1 687.3,1564.1 687.3,1554.3 689,1554.3 689,1544.4 690.6,1544.4 690.6,1534.9 692.3,1534.9 692.3,1525.6 694,1525.6 694,1516.8 695.7,1516.8 695.7,1508.5 697.4,1508.5 697.4,1500.3 699.1,1500.3 699.1,1492.4 700.8,1492.4 700.8,1485.2 702.5,1485.2 702.5,1478.8 704.2,1478.8 704.2,1473.1 705.9,1473.1 705.9,1468 707.6,1468 707.6,1463.5 708.4,1463.5 716.1,1495 717,1495 717,1502.2 718.7,1502.2 718.7,1509.2 720.4,1509.2 720.4,1516.1 722.1,1516.1 722.1,1522.9 723.8,1522.9 723.8,1529.6 725.5,1529.6 725.5,1536.2 727.2,1536.2 727.2,1542.6 728.9,1542.6 728.9,1548.9 730.7,1548.9 730.7,1555.1 732.4,1555.1 732.4,1561.1 734.1,1561.1 734.1,1567.1 735.8,1567.1 735.8,1572.9 737.5,1572.9 737.5,1578.5 739.2,1578.5 739.2,1584 740.9,1584 740.9,1589.3 742.6,1589.3 742.6,1594.4 744.4,1594.4 744.4,1599.4 746.1,1599.4 746.1,1604.4 747.8,1604.4 747.8,1609.3 749.5,1609.3 749.5,1614.3 751.2,1614.3 751.2,1619.4 752.9,1619.4 752.9,1624.4 754.6,1624.4 754.6,1629.5 756.3,1629.5 756.3,1634.4 758.1,1634.4 758.1,1639.1 759.8,1639.1 759.8,1643.6 761.5,1643.6 761.5,1647.8 763.2,1647.8 763.2,1651.9 764.9,1651.9 764.9,1655.7 766.6,1655.7 766.6,1659.5 768.3,1659.5 768.3,1663.1 770,1663.1 770,1666.5 771.8,1666.5 771.8,1669.8 773.5,1669.8 773.5,1672.9 775.2,1672.9 775.2,1676 776.9,1676 776.9,1679 778.6,1679 778.6,1681.8 780.3,1681.8 780.3,1684.5 782,1684.5 782,1687.1 783.7,1687.1 783.7,1689.5 784.6,1689.5 786.3,1670 787.1,1670 787.1,1642.4 788.8,1642.4 788.8,1621.4 790.5,1621.4 790.5,1605.7 792.1,1605.7 792.1,1592.6 793.8,1592.6 793.8,1580.6 795.5,1580.6 795.5,1569.1 797.1,1569.1 797.1,1558.5 798.8,1558.5 798.8,1548.5 800.4,1548.5 800.4,1538.6 802.1,1538.6 802.1,1528.5 803.8,1528.5 803.8,1517.9 805.4,1517.9 805.4,1507.3 807.1,1507.3 807.1,1496.9 808.8,1496.9 808.8,1487.1 810.4,1487.1 810.4,1478.3 812.1,1478.3 812.1,1470.6 813.8,1470.6 813.8,1463.2 815.4,1463.2 815.4,1456.2 817.1,1456.2 817.1,1449.7 818.7,1449.7 818.7,1443.7 820.4,1443.7 820.4,1438.3 822.1,1438.3 822.1,1433.6 822.9,1433.6 848.8,1490.5 849.7,1490.5 849.7,1494.3 851.4,1494.3 851.4,1498 853.1,1498 853.1,1501.8 854.8,1501.8 854.8,1505.5 856.5,1505.5 856.5,1509.3 858.2,1509.3 858.2,1513.1 859.9,1513.1 859.9,1516.8 861.6,1516.8 861.6,1520.6 863.3,1520.6 863.3,1524.3 865,1524.3 865,1528.1 866.8,1528.1 866.8,1531.9 868.5,1531.9 868.5,1535.6 870.2,1535.6 870.2,1539.4 871.9,1539.4 871.9,1543.1 873.6,1543.1 873.6,1546.9 875.3,1546.9 875.3,1550.7 877,1550.7 877,1554.4 878.7,1554.4 878.7,1558.2 880.4,1558.2 880.4,1562 882.2,1562 882.2,1565.7 883.9,1565.7 883.9,1569.5 885.6,1569.5 885.6,1573.2 887.3,1573.2 887.3,1577 889,1577 889,1580.8 890.7,1580.8 890.7,1584.5 892.4,1584.5 892.4,1588.3 894.1,1588.3 894.1,1592.1 895.8,1592.1 895.8,1595.8 897.5,1595.8 897.5,1599.6 898.4,1599.6 900,1580 900.8,1580 900.8,1561.8 902.5,1561.8 902.5,1544.7 904.2,1544.7 904.2,1528.5 905.8,1528.5 905.8,1513.2 907.5,1513.2 907.5,1499 909.2,1499 909.2,1485.9 910.8,1485.9 910.8,1473.7 912.5,1473.7 912.5,1462.6 914.2,1462.6 914.2,1452.2 915.8,1452.2 915.8,1442.4 917.5,1442.4 917.5,1435.6 919.2,1435.6 919.2,1431.6 920.8,1431.6 920.8,1430.3 922.5,1430.3 922.5,1429.9 924.2,1429.9 924.2,1429.8 925,1429.8 941.4,1429.5 1011.8,1414 1014.5,1415.5 1019.3,1431.8 1050.4,1431.4 1051.5,1429 1052.3,1429 1052.3,1425.8 1054,1425.8 1054,1422.8 1055.7,1422.8 1055.7,1420.3 1057.4,1420.3 1057.4,1417.9 1059.1,1417.9 1059.1,1415.4 1060.8,1415.4 1060.8,1412.9 1062.5,1412.9 1062.5,1410.4 1064.2,1410.4 1064.2,1407.9 1065.9,1407.9 1065.9,1405.4 1067.6,1405.4 1067.6,1402.9 1069.3,1402.9 1069.3,1400.5 1071,1400.5 1071,1398 1072.7,1398 1072.7,1395.5 1074.4,1395.5 1074.4,1393 1076.1,1393 1076.1,1390.5 1077.8,1390.5 1077.8,1388 1079.5,1388 1079.5,1385.5 1081.2,1385.5 1081.2,1383.1 1082.9,1383.1 1082.9,1380.6 1084.6,1380.6 1084.6,1378.1 1086.3,1378.1 1086.3,1375.6 1088,1375.6 1088,1373.1 1089.7,1373.1 1089.7,1370.6 1091.4,1370.6 1091.4,1368.1 1093.1,1368.1 1093.1,1365.6 1094.8,1365.6 1094.8,1363.2 1096.5,1363.2 1096.5,1360.7 1098.2,1360.7 1098.2,1358.2 1099.9,1358.2 1099.9,1355.7 1101.6,1355.7 1101.6,1353.2 1103.3,1353.2 1103.3,1350.7 1105,1350.7 1105,1348.2 1106.7,1348.2 1106.7,1345.8 1108.4,1345.8 1108.4,1343.3 1110.1,1343.3 1110.1,1340.8 1111.8,1340.8 1111.8,1338.3 1113.5,1338.3 1113.5,1335.8 1115.1,1335.8 1115.1,1333.3 1116.8,1333.3 1116.8,1330.8 1118.5,1330.8 1118.5,1328.4 1120.2,1328.4 1120.2,1325.9 1121.9,1325.9 1121.9,1323.4 1123.6,1323.4 1123.6,1320.9 1125.3,1320.9 1125.3,1318.4 1127,1318.4 1127,1315.9 1128.7,1315.9 1128.7,1313.4 1130.4,1313.4 1130.4,1310.6 1132.1,1310.6 1132.1,1307.8 1133.8,1307.8 1133.8,1305 1135.5,1305 1135.5,1302.2 1137.2,1302.2 1137.2,1299.5 1138.9,1299.5 1138.9,1296.7 1140.6,1296.7 1140.6,1293.9 1142.3,1293.9 1142.3,1291.1 1144,1291.1 1144,1288.3 1145.7,1288.3 1145.7,1285.5 1147.4,1285.5 1147.4,1282.7 1149.1,1282.7 1149.1,1279.9 1150.8,1279.9 1150.8,1277.1 1152.5,1277.1 1152.5,1274.3 1154.2,1274.3 1154.2,1271.5 1155.9,1271.5 1155.9,1268.8 1157.6,1268.8 1157.6,1266 1159.3,1266 1159.3,1263.2 1161,1263.2 1161,1260.4 1162.7,1260.4 1162.7,1257.6 1164.4,1257.6 1164.4,1254.8 1166.1,1254.8 1166.1,1252 1167.8,1252 1167.8,1249.2 1169.5,1249.2 1169.5,1246.4 1171.2,1246.4 1171.2,1243.6 1172.9,1243.6 1172.9,1240.8 1174.6,1240.8 1174.6,1238.1 1176.3,1238.1 1176.3,1235.3 1178,1235.3 1178,1232.5 1179.6,1232.5 1179.6,1229.7 1181.3,1229.7 1181.3,1226.9 1183,1226.9 1183,1224.1 1184.7,1224.1 1184.7,1221.3 1186.4,1221.3 1186.4,1218.5 1188.1,1218.5 1188.1,1215.7 1189.8,1215.7 1189.8,1212.9 1191.5,1212.9 1191.5,1210.1 1193.2,1210.1 1193.2,1207.3 1194.9,1207.3 1194.9,1204.6 1196.6,1204.6 1196.6,1201.8 1198.3,1201.8 1198.3,1199 1200,1199 1200,1196.2 1201.7,1196.2 1201.7,1193.4 1203.4,1193.4 1203.4,1190.6 1205.1,1190.6 1205.1,1187.8 1206.8,1187.8 1206.8,1185 1208.5,1185 1208.5,1182.2 1210.2,1182.2 1210.2,1179.4 1211.9,1179.4 1211.9,1176.6 1213.6,1176.6 1213.6,1173.9 1215.3,1173.9 1215.3,1171.1 1217,1171.1 1217,1168.3 1218.7,1168.3 1218.7,1165.5 1220.4,1165.5 1220.4,1162.7 1222.1,1162.7 1222.1,1159.9 1223.8,1159.9 1223.8,1157.1 1225.5,1157.1 1225.5,1154.3 1227.2,1154.3 1227.2,1151.5 1228.9,1151.5 1228.9,1148.7 1230.6,1148.7 1230.6,1145.9 1232.3,1145.9 1232.3,1143.2 1234,1143.2 1234,1140.4 1235.7,1140.4 1235.7,1137.6 1237.4,1137.6 1237.4,1134.8 1239.1,1134.8 1239.1,1132 1240.8,1132 1240.8,1129.2 1241.6,1129.2 1243,1140 1243.4,1140 1243.4,1150.7 1244.2,1150.7 1244.2,1161.5 1245,1161.5 1245,1172.2 1245.8,1172.2 1245.8,1183 1246.6,1183 1246.6,1193.7 1247.4,1193.7 1247.4,1204.5 1248.2,1204.5 1248.2,1217 1249,1217 1249,1229.7 1249.8,1229.7 1249.8,1242.5 1250.6,1242.5 1250.6,1255.3 1251.4,1255.3 1251.4,1268.1 1252.2,1268.1 1252.2,1280.8 1253,1280.8 1253,1293.1 1253.8,1293.1 1253.8,1303.8 1254.6,1303.8 1254.6,1314.6 1255.4,1314.6 1255.4,1325.3 1256.2,1325.3 1256.2,1336.1 1257,1336.1 1257,1346.8 1257.8,1346.8 1257.8,1357.5 1258.6,1357.5 1258.6,1368.3 1259.4,1368.3 1259.4,1384.4 1260.2,1384.4 1260.2,1409.4 1261,1409.4 1261,1433.4 1261.8,1433.4 1261.8,1456.3 1262.2,1456.3 1263.3,1474 1266,1480.5 1266.7,1373 1268.5,1395 1270.5,1412 1272.8,1478 1273.4,1478 1275.5,1369 1277.5,1420 1278.5,1370 1280.5,1383 1282.6,1394.3 1283.4,1394.3 1283.4,1418.4 1285.1,1418.4 1285.1,1438.9 1286.8,1438.9 1286.8,1455.8 1288.5,1455.8 1288.5,1473 1290.2,1473 1290.2,1491.6 1291.9,1491.6 1291.9,1509.7 1293.6,1509.7 1293.6,1527.4 1295.3,1527.4 1295.3,1544.7 1297,1544.7 1297,1561.4 1298.7,1561.4 1298.7,1577.3 1300.4,1577.3 1300.4,1592.9 1302.1,1592.9 1302.1,1608 1303.8,1608 1303.8,1622.3 1305.5,1622.3 1305.5,1635.5 1307.2,1635.5 1307.2,1647.4 1308.9,1647.4 1308.9,1658.9 1310.6,1658.9 1310.6,1669.3 1312.3,1669.3 1312.3,1678 1314,1678 1314,1684.5 1315.7,1684.5 1315.7,1690.2 1317.4,1690.2 1317.4,1695 1319.1,1695 1319.1,1698.5 1320.8,1698.5 1320.8,1700.5 1322.5,1700.5 1322.5,1702.2 1324.2,1702.2 1324.2,1703.5 1325.9,1703.5 1325.9,1704.6 1327.6,1704.6 1327.6,1705.2 1329.3,1705.2 1329.3,1705.6 1331,1705.6 1331,1705.9 1332.7,1705.9 1332.7,1706.2 1334.4,1706.2 1334.4,1706.3 1336.1,1706.3 1336.1,1706.3 1337.8,1706.3 1337.8,1706.3 1339.5,1706.3 1339.5,1706.3 1341.2,1706.3 1341.2,1706.3 1342.9,1706.3 1342.9,1706.3 1344.6,1706.3 1344.6,1706.3 1346.3,1706.3 1346.3,1706.3 1348,1706.3 1348,1706.3 1349.7,1706.3 1349.7,1706.3 1351.4,1706.3 1351.4,1706.3 1353.1,1706.3 1353.1,1706.3 1354.8,1706.3 1354.8,1706.3 1355.6,1706.3 1356.3,1700 1357.2,1700 1357.2,1686.2 1358.9,1686.2 1358.9,1675.1 1360.6,1675.1 1360.6,1665.5 1362.4,1665.5 1362.4,1657.4 1364.1,1657.4 1364.1,1651.1 1365.8,1651.1 1365.8,1645.8 1367.6,1645.8 1367.6,1641.1 1369.3,1641.1 1369.3,1636.8 1371,1636.8 1371,1633 1372.8,1633 1372.8,1629.3 1374.5,1629.3 1374.5,1625.8 1376.2,1625.8 1376.2,1622.4 1377.9,1622.4 1377.9,1619.3 1379.7,1619.3 1379.7,1616.3 1381.4,1616.3 1381.4,1613.4 1383.1,1613.4 1383.1,1610.6 1384.9,1610.6 1384.9,1607.9 1386.6,1607.9 1386.6,1605.2 1388.3,1605.2 1388.3,1602.6 1390.1,1602.6 1390.1,1600 1391.8,1600 1391.8,1597.6 1393.5,1597.6 1393.5,1595.2 1394.4,1595.2 1395.5,1610 1396.3,1610 1396.3,1630.3 1398,1630.3 1398,1645.4 1399.7,1645.4 1399.7,1657.9 1401.4,1657.9 1401.4,1668.5 1403.1,1668.5 1403.1,1677 1404.8,1677 1404.8,1683.1 1406.5,1683.1 1406.5,1688.2 1408.2,1688.2 1408.2,1692.5 1409.9,1692.5 1409.9,1696.1 1411.5,1696.1 1411.5,1698.6 1413.2,1698.6 1413.2,1700.3 1414.9,1700.3 1414.9,1701.6 1416.6,1701.6 1416.6,1702.7 1418.3,1702.7 1418.3,1703.6 1420,1703.6 1420,1704.4 1421.7,1704.4 1421.7,1704.9 1423.4,1704.9 1423.4,1705.3 1425.1,1705.3 1425.1,1705.7 1426.7,1705.7 1426.7,1705.9 1428.4,1705.9 1428.4,1706.2 1430.1,1706.2 1430.1,1706.3 1431.8,1706.3 1431.8,1706.3 1433.5,1706.3 1433.5,1706.3 1435.2,1706.3 1435.2,1706.3 1436.9,1706.3 1436.9,1706.3 1438.6,1706.3 1438.6,1706.3 1440.2,1706.3 1440.2,1706.3 1441.9,1706.3 1441.9,1706.3 1443.6,1706.3 1443.6,1706.3 1445.3,1706.3 1445.3,1706.3 1447,1706.3 1447,1706.3 1448.7,1706.3 1448.7,1706.3 1450.4,1706.3 1450.4,1706.3 1452.1,1706.3 1452.1,1706.3 1453.8,1706.3 1453.8,1706.3 1455.4,1706.3 1455.4,1706.3 1457.1,1706.3 1457.1,1706.3 1458.8,1706.3 1458.8,1706.3 1460.5,1706.3 1460.5,1706.3 1462.2,1706.3 1462.2,1706.3 1463.9,1706.3 1463.9,1706.3 1465.6,1706.3 1465.6,1706.3 1467.3,1706.3 1467.3,1706.3 1469,1706.3 1469,1706.3 1469.8,1706.3 1470.5,1700 1471.4,1700 1471.4,1686.9 1473.1,1686.9 1473.1,1673.9 1474.8,1673.9 1474.8,1660.4 1476.5,1660.4 1476.5,1647.6 1478.2,1647.6 1478.2,1636.6 1479.9,1636.6 1479.9,1626.8 1481.6,1626.8 1481.6,1617.6 1483.4,1617.6 1483.4,1609.1 1485.1,1609.1 1485.1,1601 1486.8,1601 1486.8,1593.3 1488.5,1593.3 1488.5,1585.9 1490.2,1585.9 1490.2,1578.6 1491.9,1578.6 1491.9,1571.5 1493.6,1571.5 1493.6,1564.7 1495.3,1564.7 1495.3,1558.2 1497.1,1558.2 1497.1,1552.3 1498.8,1552.3 1498.8,1546.9 1500.5,1546.9 1500.5,1542.2 1502.2,1542.2 1502.2,1537.8 1503.9,1537.8 1503.9,1533.8 1505.6,1533.8 1505.6,1530.3 1507.3,1530.3 1507.3,1527.2 1508.2,1527.2 1510.5,1556 1511.4,1556 1511.4,1571.8 1513.1,1571.8 1513.1,1585.8 1514.8,1585.8 1514.8,1598.1 1516.5,1598.1 1516.5,1609.3 1518.2,1609.3 1518.2,1619.6 1519.9,1619.6 1519.9,1629.1 1521.6,1629.1 1521.6,1638 1523.3,1638 1523.3,1645.8 1525,1645.8 1525,1652.4 1526.7,1652.4 1526.7,1658.6 1528.4,1658.6 1528.4,1664.3 1530.2,1664.3 1530.2,1669.6 1531.9,1669.6 1531.9,1674.3 1533.6,1674.3 1533.6,1678.5 1535.3,1678.5 1535.3,1682.1 1537,1682.1 1537,1685.3 1538.7,1685.3 1538.7,1688.3 1540.4,1688.3 1540.4,1691.1 1542.1,1691.1 1542.1,1693.5 1543.8,1693.5 1543.8,1695.5 1545.5,1695.5 1545.5,1697.2 1547.2,1697.2 1547.2,1698.6 1549,1698.6 1549,1699.9 1550.7,1699.9 1550.7,1701.1 1552.4,1701.1 1552.4,1702.1 1554.1,1702.1 1554.1,1703.1 1555.8,1703.1 1555.8,1703.9 1557.5,1703.9 1557.5,1704.5 1559.2,1704.5 1559.2,1705 1560.9,1705 1560.9,1705.4 1562.6,1705.4 1562.6,1705.8 1564.3,1705.8 1564.3,1706.1 1566.1,1706.1 1566.1,1706.3 1567.8,1706.3 1567.8,1706.3 1569.5,1706.3 1569.5,1706.3 1571.2,1706.3 1571.2,1706.3 1572.9,1706.3 1572.9,1706.3 1574.6,1706.3 1574.6,1706.3 1576.3,1706.3 1576.3,1706.3 1578,1706.3 1578,1706.3 1579.7,1706.3 1579.7,1706.3 1581.4,1706.3 1581.4,1706.3 1583.1,1706.3 1583.1,1706.3 1584,1706.3 1584.8,1700 1585.7,1700 1585.7,1687.6 1587.4,1687.6 1587.4,1670.7 1589.1,1670.7 1589.1,1647.5 1590.9,1647.5 1590.9,1624.3 1592.6,1624.3 1592.6,1607.4 1594.3,1607.4 1594.3,1594.1 1596.1,1594.1 1596.1,1582.5 1597.8,1582.5 1597.8,1572 1599.5,1572 1599.5,1562 1601.3,1562 1601.3,1552.1 1603,1552.1 1603,1542.6 1604.7,1542.6 1604.7,1533.6 1606.4,1533.6 1606.4,1524.9 1608.2,1524.9 1608.2,1516.6 1609.9,1516.6 1609.9,1508.6 1611.6,1508.6 1611.6,1500.9 1613.4,1500.9 1613.4,1493.5 1615.1,1493.5 1615.1,1486.3 1616.8,1486.3 1616.8,1479.4 1618.6,1479.4 1618.6,1472.8 1620.3,1472.8 1620.3,1466.5 1622,1466.5 1622,1460.5 1622.9,1460.5 1633.6,1517.7 1634.4,1517.7 1634.4,1527.1 1636.2,1527.1 1636.2,1536.1 1637.8,1536.1 1637.8,1544.9 1639.5,1544.9 1639.5,1553.3 1641.2,1553.3 1641.2,1561.3 1642.9,1561.3 1642.9,1569 1644.7,1569 1644.7,1576.2 1646.3,1576.2 1646.3,1583.2 1648,1583.2 1648,1589.8 1649.8,1589.8 1649.8,1596.2 1651.4,1596.2 1651.4,1602.3 1653.2,1602.3 1653.2,1608.3 1654.8,1608.3 1654.8,1614 1656.5,1614 1656.5,1619.6 1658.2,1619.6 1658.2,1625.2 1659.9,1625.2 1659.9,1630.6 1661.7,1630.6 1661.7,1635.9 1663.3,1635.9 1663.3,1640.9 1665.1,1640.9 1665.1,1645.7 1666.8,1645.7 1666.8,1650.2 1668.4,1650.2 1668.4,1654.4 1670.2,1654.4 1670.2,1658.4 1671.8,1658.4 1671.8,1662.2 1673.6,1662.2 1673.6,1665.9 1675.2,1665.9 1675.2,1669.4 1676.9,1669.4 1676.9,1672.7 1678.7,1672.7 1678.7,1675.8 1680.3,1675.8 1680.3,1678.8 1682.1,1678.8 1682.1,1681.5 1683.8,1681.5 1683.8,1684 1685.4,1684 1685.4,1686.5 1687.2,1686.5 1687.2,1688.9 1688.8,1688.9 1688.8,1691.2 1690.6,1691.2 1690.6,1693.4 1692.2,1693.4 1692.2,1695.4 1694,1695.4 1694,1697.3 1695.7,1697.3 1695.7,1699 1697.3,1699 1697.3,1700.5 1698.2,1700.5 1699.5,1690 1700.4,1690 1700.4,1672.9 1702.1,1672.9 1702.1,1654.7 1703.8,1654.7 1703.8,1634.2 1705.5,1634.2 1705.5,1611.7 1707.2,1611.7 1707.2,1590.2 1708.9,1590.2 1708.9,1572.6 1710.6,1572.6 1710.6,1559.1 1712.3,1559.1 1712.3,1547 1714,1547 1714,1536.2 1715.7,1536.2 1715.7,1526.3 1717.4,1526.3 1717.4,1517 1719.1,1517 1719.1,1507.9 1720.8,1507.9 1720.8,1499 1722.5,1499 1722.5,1490.2 1724.2,1490.2 1724.2,1481.6 1725.9,1481.6 1725.9,1473.3 1727.6,1473.3 1727.6,1465.3 1729.3,1465.3 1729.3,1457.6 1731,1457.6 1731,1450.3 1732.7,1450.3 1732.7,1443.3 1734.4,1443.3 1734.4,1436.7 1736.1,1436.7 1736.1,1430.6 1737,1430.6 1750.6,1476.9 1751.5,1476.9 1751.5,1482.5 1753.2,1482.5 1753.2,1488 1754.9,1488 1754.9,1493.4 1756.6,1493.4 1756.6,1498.7 1758.3,1498.7 1758.3,1503.8 1760,1503.8 1760,1508.7 1761.8,1508.7 1761.8,1513.5 1763.5,1513.5 1763.5,1518 1765.2,1518 1765.2,1522.4 1766.9,1522.4 1766.9,1526.6 1768.6,1526.6 1768.6,1530.6 1770.3,1530.6 1770.3,1534.6 1772.1,1534.6 1772.1,1538.4 1773.8,1538.4 1773.8,1542.2 1775.5,1542.2 1775.5,1545.9 1777.2,1545.9 1777.2,1549.5 1778.9,1549.5 1778.9,1553.1 1780.6,1553.1 1780.6,1556.7 1782.4,1556.7 1782.4,1560.2 1784.1,1560.2 1784.1,1563.8 1785.8,1563.8 1785.8,1567.4 1787.5,1567.4 1787.5,1571 1789.2,1571 1789.2,1574.7 1790.9,1574.7 1790.9,1578.5 1792.7,1578.5 1792.7,1582.3 1794.4,1582.3 1794.4,1586.1 1796.1,1586.1 1796.1,1589.8 1797.8,1589.8 1797.8,1593.6 1799.5,1593.6 1799.5,1597.4 1801.2,1597.4 1801.2,1601.2 1803,1601.2 1803,1605 1804.7,1605 1804.7,1608.8 1806.4,1608.8 1806.4,1612.6 1808.1,1612.6 1808.1,1616.4 1809.8,1616.4 1809.8,1620.2 1811.5,1620.2 1811.5,1624 1812.4,1624 1814,1600 1814.9,1600 1814.9,1582 1816.6,1582 1816.6,1564.4 1818.3,1564.4 1818.3,1547.3 1820,1547.3 1820,1530.8 1821.7,1530.8 1821.7,1514.4 1823.4,1514.4 1823.4,1498.3 1825.1,1498.3 1825.1,1482.7 1826.9,1482.7 1826.9,1468 1828.6,1468 1828.6,1454.4 1830.3,1454.4 1830.3,1441.1 1832,1441.1 1832,1434.6 1833.7,1434.6 1833.7,1431.4 1835.4,1431.4 1835.4,1430.2 1837.1,1430.2 1837.1,1429.8 1838,1429.8 1856.2,1429.5 1927.8,1410 1930.5,1411.5 1935.4,1431.8 1966,1431.4 1967.8,1430 1968.7,1430 1968.7,1428.4 1970.4,1428.4 1970.4,1426.2 1972.1,1426.2 1972.1,1423.3 1973.8,1423.3 1973.8,1420.4 1975.5,1420.4 1975.5,1417.5 1977.2,1417.5 1977.2,1414.6 1978.9,1414.6 1978.9,1411.7 1980.6,1411.7 1980.6,1408.9 1982.3,1408.9 1982.3,1406 1984,1406 1984,1403.1 1985.7,1403.1 1985.7,1400.2 1987.4,1400.2 1987.4,1397.3 1989.1,1397.3 1989.1,1394.4 1990.8,1394.4 1990.8,1391.5 1992.5,1391.5 1992.5,1388.6 1994.2,1388.6 1994.2,1385.7 1995.9,1385.7 1995.9,1382.8 1997.6,1382.8 1997.6,1379.9 1999.3,1379.9 1999.3,1377 2001,1377 2001,1374.1 2002.7,1374.1 2002.7,1371.2 2004.4,1371.2 2004.4,1368.4 2006.1,1368.4 2006.1,1365.5 2007.8,1365.5 2007.8,1362.6 2009.5,1362.6 2009.5,1359.7 2011.2,1359.7 2011.2,1356.8 2012.9,1356.8 2012.9,1353.9 2014.6,1353.9 2014.6,1351 2016.3,1351 2016.3,1348.1 2018,1348.1 2018,1345.2 2019.7,1345.2 2019.7,1342.3 2021.4,1342.3 2021.4,1339.4 2023.1,1339.4 2023.1,1336.5 2024.8,1336.5 2024.8,1333.5 2026.5,1333.5 2026.5,1330.4 2028.2,1330.4 2028.2,1327.3 2029.9,1327.3 2029.9,1324.2 2031.6,1324.2 2031.6,1321.1 2033.3,1321.1 2033.3,1317.9 2035,1317.9 2035,1314.8 2036.7,1314.8 2036.7,1311.7 2038.4,1311.7 2038.4,1308.6 2040.1,1308.6 2040.1,1305.5 2041.8,1305.5 2041.8,1302.2 2043.5,1302.2 2043.5,1298.9 2045.2,1298.9 2045.2,1295.6 2046.9,1295.6 2046.9,1292.4 2048.6,1292.4 2048.6,1289.1 2050.3,1289.1 2050.3,1285.8 2052,1285.8 2052,1282.5 2053.7,1282.5 2053.7,1279.2 2055.4,1279.2 2055.4,1275.9 2057.1,1275.9 2057.1,1272.7 2058.8,1272.7 2058.8,1269.4 2060.5,1269.4 2060.5,1266.1 2062.2,1266.1 2062.2,1262.8 2063.9,1262.8 2063.9,1259.5 2065.6,1259.5 2065.6,1256.3 2067.3,1256.3 2067.3,1253 2069,1253 2069,1249.7 2070.7,1249.7 2070.7,1246.4 2072.4,1246.4 2072.4,1243.1 2074.1,1243.1 2074.1,1239.9 2075.8,1239.9 2075.8,1236.6 2077.5,1236.6 2077.5,1233.3 2079.2,1233.3 2079.2,1230 2080.9,1230 2080.9,1226.8 2082.6,1226.8 2082.6,1223.5 2084.3,1223.5 2084.3,1220.3 2086,1220.3 2086,1217 2087.7,1217 2087.7,1213.8 2089.4,1213.8 2089.4,1210.5 2091.1,1210.5 2091.1,1207.3 2092.8,1207.3 2092.8,1204 2094.5,1204 2094.5,1200.8 2096.2,1200.8 2096.2,1197.5 2097.9,1197.5 2097.9,1194.3 2099.6,1194.3 2099.6,1191 2101.3,1191 2101.3,1187.8 2103,1187.8 2103,1184.5 2104.7,1184.5 2104.7,1181.3 2106.4,1181.3 2106.4,1178 2108.1,1178 2108.1,1174.8 2109.8,1174.8 2109.8,1171.5 2111.5,1171.5 2111.5,1168.3 2113.2,1168.3 2113.2,1165 2114.9,1165 2114.9,1161.8 2116.6,1161.8 2116.6,1158.5 2117.5,1158.5 2118.5,1172 2119.1,1172 2119.1,1187.3 2120.3,1187.3 2120.3,1202.7 2121.5,1202.7 2121.5,1212.8 2122.7,1212.8 2122.7,1220.3 2123.9,1220.3 2123.9,1227.7 2125.1,1227.7 2125.1,1235.1 2126.3,1235.1 2126.3,1242.6 2127.5,1242.6 2127.5,1250 2128.7,1250 2128.7,1257.5 2129.9,1257.5 2129.9,1265.1 2131.1,1265.1 2131.1,1272.6 2132.3,1272.6 2132.3,1280.1 2133.5,1280.1 2133.5,1287.6 2134.7,1287.6 2134.7,1295.2 2135.9,1295.2 2135.9,1301.5 2137.1,1301.5 2137.1,1306.8 2138.2,1306.8 2138.2,1312.1 2139.4,1312.1 2139.4,1317.4 2140.6,1317.4 2140.6,1322.7 2141.8,1322.7 2141.8,1328 2143,1328 2143,1333.3 2144.2,1333.3 2144.2,1338 2145.4,1338 2145.4,1342.5 2146.6,1342.5 2146.6,1347 2147.8,1347 2147.8,1351.5 2149,1351.5 2149,1355.9 2150.2,1355.9 2150.2,1360.6 2151.4,1360.6 2151.4,1365.6 2152.6,1365.6 2152.6,1370.6 2153.8,1370.6 2153.8,1375.6 2155,1375.6 2155,1380.5 2156.2,1380.5 2156.2,1385.5 2156.8,1385.5 2158,1345 2159,1322 2161.2,1316.8 2162.6,1300 2163.4,1295.5 2164.5,1320 2166.7,1305 2167.3,1323 2172.1,1322.2 2175.7,1331.3 2180.3,1348.5" fill="none" stroke="#000" stroke-width="7.1" stroke-linejoin="round" stroke-linecap="round"/>
<path d="M215.9,1471.1 215.9,1501.6 325.5,1501.6 M330.9,1429.6 1127.5,1429.6 1127.5,1501.6 1239.1,1501.6 M1244.4,1429.6 2041.1,1429.6 2041.1,1501.6 2114.5,1501.6 M2119.8,1429.6 2180.4,1429.6" fill="none" stroke="#548235" stroke-width="5.3" stroke-linejoin="round" stroke-linecap="round"/>
<path d="M214,1717.5 328.2,1717.5 328.2,1117.8 366.3,1117.8 366.3,1717.5 442.4,1717.5 442.4,1117.8 480.4,1117.8 480.4,1717.5 556.6,1717.5 556.6,1117.8 594.6,1117.8 594.6,1717.5 670.8,1717.5 670.8,1117.8 708.8,1117.8 708.8,1717.5 785,1717.5 785,1117.8 823,1117.8 823,1717.5 899.1,1717.5 899.1,1117.8 937.2,1117.8 937.2,1717.5 1013.3,1717.5 1013.3,1117.8 1051.4,1117.8 1051.4,1717.5 1241.7,1717.5 1241.7,1117.8 1279.8,1117.8 1279.8,1717.5 1355.9,1717.5 1355.9,1117.8 1394,1117.8 1394,1717.5 1470.1,1717.5 1470.1,1117.8 1508.2,1117.8 1508.2,1717.5 1584.3,1717.5 1584.3,1117.8 1622.4,1117.8 1622.4,1717.5 1698.5,1717.5 1698.5,1117.8 1736.5,1117.8 1736.5,1717.5 1812.7,1717.5 1812.7,1117.8 1850.7,1117.8 1850.7,1717.5 1926.9,1717.5 1926.9,1117.8 1964.9,1117.8 1964.9,1717.5 2117.2,1717.5 2117.2,1117.8 2143.3,1117.8 2143.3,1717.5 2179.6,1717.5" fill="none" stroke="#7f7f7f" stroke-width="5.4" stroke-linejoin="round" stroke-linecap="round"/>
</g>
<rect x="265.8" y="1014.7" width="855.0" height="92.2" fill="#fff" stroke="#000" stroke-width="2.4"/>
<line x1="294.2" y1="1061.0" x2="340.2" y2="1061.0" stroke="#000" stroke-width="7.4" stroke-linecap="round"/>
<line x1="450.8" y1="1061.0" x2="497.4" y2="1061.0" stroke="#548235" stroke-width="5.6" stroke-linecap="round"/>
<line x1="688.0" y1="1061.0" x2="735.5" y2="1061.0" stroke="#7f7f7f" stroke-width="5.6" stroke-linecap="round"/>
<text transform="translate(346.43,1073.90) scale(0.9145,1)" font-size="41">CO2</text>
<text transform="translate(502.54,1073.90) scale(0.9643,1)" font-size="41">Setpoint</text>
<text transform="translate(740.79,1073.90) scale(0.9395,1)" font-size="41">CO2 Control Switch</text>
</g>
<g id="labels">
<text transform="translate(5.00,35.60) scale(0.9983,1)" font-size="44">A</text>
<text transform="translate(3.02,949.80) scale(0.9394,1)" font-size="44">B</text>
<text transform="translate(996.23,55.60) scale(0.8477,1)" font-size="42.5">CO</text>
<text transform="translate(1051.91,64.40) scale(0.9236,1)" font-size="28">2</text>
<text transform="translate(1074.85,55.60) scale(0.9631,1)" font-size="42.5">Drawdown</text>
<text transform="translate(1290.43,55.60) scale(0.9358,1)" font-size="42.5">Experiment</text>
<text transform="translate(162.57,830.40) scale(1.0195,1)" font-size="42.5">0</text>
<text transform="translate(118.30,652.90) scale(0.9632,1)" font-size="42.5">200</text>
<text transform="translate(119.02,475.40) scale(0.9527,1)" font-size="42.5">400</text>
<text transform="translate(118.05,297.90) scale(0.9668,1)" font-size="42.5">600</text>
<text transform="translate(118.30,120.40) scale(0.9632,1)" font-size="42.5">800</text>
<text transform="translate(2342.07,830.40) scale(1.0195,1)" font-size="42.5">0</text>
<text transform="translate(2342.07,712.07) scale(1.0195,1)" font-size="42.5">1</text>
<text transform="translate(2342.34,593.73) scale(1.0072,1)" font-size="42.5">2</text>
<text transform="translate(2342.87,475.40) scale(0.9721,1)" font-size="42.5">3</text>
<text transform="translate(2343.15,357.07) scale(0.9087,1)" font-size="42.5">4</text>
<text transform="translate(2342.37,238.73) scale(0.9835,1)" font-size="42.5">5</text>
<text transform="translate(2342.09,120.40) scale(1.0072,1)" font-size="42.5">6</text>
<text transform="translate(215.77,889.30) scale(1.0195,1)" font-size="42.5">0</text>
<text transform="translate(404.53,889.30) scale(0.9835,1)" font-size="42.5">5</text>
<text transform="translate(581.59,889.30) scale(0.9763,1)" font-size="42.5">10</text>
<text transform="translate(770.07,889.30) scale(0.9654,1)" font-size="42.5">15</text>
<text transform="translate(958.75,889.30) scale(0.9708,1)" font-size="42.5">20</text>
<text transform="translate(1147.22,889.30) scale(0.9600,1)" font-size="42.5">25</text>
<text transform="translate(1336.16,889.30) scale(0.9600,1)" font-size="42.5">30</text>
<text transform="translate(1524.62,889.30) scale(0.9495,1)" font-size="42.5">35</text>
<text transform="translate(1713.31,889.30) scale(0.9547,1)" font-size="42.5">40</text>
<text transform="translate(1901.77,889.30) scale(0.9443,1)" font-size="42.5">45</text>
<text transform="translate(2089.48,889.30) scale(0.9708,1)" font-size="42.5">50</text>
<text transform="translate(2277.95,889.30) scale(0.9600,1)" font-size="42.5">55</text>
<text transform="translate(149.87,1730.20) scale(1.0195,1)" font-size="42.5">0</text>
<text transform="translate(83.06,1586.26) scale(0.9596,1)" font-size="42.5">1000</text>
<text transform="translate(83.30,1442.32) scale(0.9569,1)" font-size="42.5">2000</text>
<text transform="translate(83.79,1298.38) scale(0.9518,1)" font-size="42.5">3000</text>
<text transform="translate(84.03,1154.44) scale(0.9492,1)" font-size="42.5">4000</text>
<text transform="translate(83.30,1010.50) scale(0.9569,1)" font-size="42.5">5000</text>
<text transform="translate(2350.13,1730.20) scale(0.9821,1)" font-size="42.5">0.0</text>
<text transform="translate(2350.13,1610.25) scale(0.9821,1)" font-size="42.5">0.2</text>
<text transform="translate(2350.17,1490.30) scale(0.9565,1)" font-size="42.5">0.4</text>
<text transform="translate(2350.13,1370.35) scale(0.9778,1)" font-size="42.5">0.6</text>
<text transform="translate(2350.14,1250.40) scale(0.9735,1)" font-size="42.5">0.8</text>
<text transform="translate(2350.13,1130.45) scale(0.9821,1)" font-size="42.5">1.0</text>
<text transform="translate(2350.13,1010.50) scale(0.9821,1)" font-size="42.5">1.2</text>
<text transform="translate(202.42,1788.60) scale(1.0195,1)" font-size="42.5">0</text>
<text transform="translate(393.04,1788.60) scale(0.9835,1)" font-size="42.5">5</text>
<text transform="translate(571.97,1788.60) scale(0.9763,1)" font-size="42.5">10</text>
<text transform="translate(762.31,1788.60) scale(0.9654,1)" font-size="42.5">15</text>
<text transform="translate(952.86,1788.60) scale(0.9708,1)" font-size="42.5">20</text>
<text transform="translate(1143.19,1788.60) scale(0.9600,1)" font-size="42.5">25</text>
<text transform="translate(1333.99,1788.60) scale(0.9600,1)" font-size="42.5">30</text>
<text transform="translate(1524.32,1788.60) scale(0.9495,1)" font-size="42.5">35</text>
<text transform="translate(1714.87,1788.60) scale(0.9547,1)" font-size="42.5">40</text>
<text transform="translate(1905.19,1788.60) scale(0.9443,1)" font-size="42.5">45</text>
<text transform="translate(2094.77,1788.60) scale(0.9708,1)" font-size="42.5">50</text>
<text transform="translate(2285.10,1788.60) scale(0.9600,1)" font-size="42.5">55</text>
<text transform="translate(1071.91,1838.10) scale(0.9794,1)" font-size="48">Time</text>
<text transform="translate(1192.96,1838.10) scale(0.9960,1)" font-size="48">(hr)</text>
<text transform="translate(58.40,724.98) rotate(-90) scale(0.8927,1)" font-size="46">Light</text>
<text transform="translate(58.40,614.20) rotate(-90) scale(0.9651,1)" font-size="46">Intensity</text>
<text transform="translate(58.40,422.22) rotate(-90) scale(0.9883,1)" font-size="46">(μmol</text>
<text transform="translate(58.40,287.93) rotate(-90) scale(0.9759,1)" font-size="46">m</text>
<text transform="translate(42.60,245.93) rotate(-90) scale(0.9267,1)" font-size="31">-2</text>
<text transform="translate(58.40,209.04) rotate(-90) scale(0.6921,1)" font-size="46">s</text>
<text transform="translate(42.60,187.12) rotate(-90) scale(0.9165,1)" font-size="31">-1</text>
<text transform="translate(58.40,159.00) rotate(-90) scale(0.8226,1)" font-size="46">)</text>
<text transform="translate(2443.60,582.77) rotate(-90) scale(0.9244,1)" font-size="46">Relative</text>
<text transform="translate(2443.60,405.07) rotate(-90) scale(0.9348,1)" font-size="46">Units</text>
<text transform="translate(55.70,1735.56) rotate(-90) scale(0.8916,1)" font-size="46">CO</text>
<text transform="translate(66.60,1675.29) rotate(-90) scale(0.8933,1)" font-size="31">2</text>
<text transform="translate(55.70,1649.36) rotate(-90) scale(0.9478,1)" font-size="46">Concentration</text>
<text transform="translate(55.70,1345.28) rotate(-90) scale(0.9675,1)" font-size="46">(μmol</text>
<text transform="translate(55.70,1211.41) rotate(-90) scale(0.9703,1)" font-size="46">mol</text>
<text transform="translate(40.00,1131.36) rotate(-90) scale(0.9592,1)" font-size="31">-1</text>
<text transform="translate(55.70,1101.60) rotate(-90) scale(0.7019,1)" font-size="46">)</text>
<text transform="translate(2478.20,1563.51) rotate(-90) scale(0.8736,1)" font-size="42">CO</text>
<text transform="translate(2487.60,1509.73) rotate(-90) scale(0.9745,1)" font-size="28">2</text>
<text transform="translate(2478.20,1486.08) rotate(-90) scale(0.9193,1)" font-size="42">Control</text>
<text transform="translate(2478.20,1339.93) rotate(-90) scale(0.9265,1)" font-size="42">Switch</text>
</g>
</svg>
</body></html>
